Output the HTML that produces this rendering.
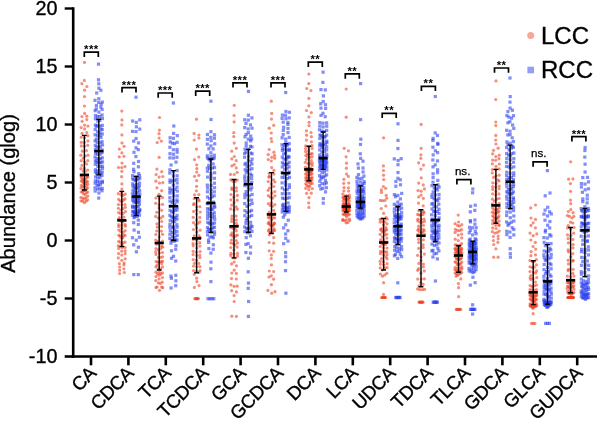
<!DOCTYPE html>
<html><head><meta charset="utf-8"><title>Abundance (glog) LCC vs RCC</title>
<style>html,body{margin:0;padding:0;background:#fff}body{width:597px;height:421px;overflow:hidden}svg{display:block}</style>
</head><body>
<svg width="597" height="421" viewBox="0 0 597 421" font-family="'Liberation Sans', Arial, sans-serif">
<rect width="597" height="421" fill="#fff"/>
<g fill="#F03C1E" fill-opacity="0.58"><circle cx="84.5" cy="202.7" r="1.6"/><circle cx="82.6" cy="201.2" r="1.6"/><circle cx="86.3" cy="201.1" r="1.6"/><circle cx="81.0" cy="200.8" r="1.6"/><circle cx="87.6" cy="199.8" r="1.6"/><circle cx="84.4" cy="198.9" r="1.6"/><circle cx="82.7" cy="198.1" r="1.6"/><circle cx="85.9" cy="197.6" r="1.6"/><circle cx="80.9" cy="197.5" r="1.6"/><circle cx="87.8" cy="196.1" r="1.6"/><circle cx="85.2" cy="194.5" r="1.6"/><circle cx="83.7" cy="194.0" r="1.6"/><circle cx="86.4" cy="192.6" r="1.6"/><circle cx="82.7" cy="192.1" r="1.6"/><circle cx="87.7" cy="192.1" r="1.6"/><circle cx="81.2" cy="192.0" r="1.6"/><circle cx="83.6" cy="190.6" r="1.6"/><circle cx="84.9" cy="190.5" r="1.6"/><circle cx="82.7" cy="190.0" r="1.6"/><circle cx="86.6" cy="188.8" r="1.6"/><circle cx="81.0" cy="188.0" r="1.6"/><circle cx="87.6" cy="187.8" r="1.6"/><circle cx="84.7" cy="186.9" r="1.6"/><circle cx="82.6" cy="186.6" r="1.6"/><circle cx="86.3" cy="185.4" r="1.6"/><circle cx="81.3" cy="185.4" r="1.6"/><circle cx="87.8" cy="184.2" r="1.6"/><circle cx="84.3" cy="183.8" r="1.6"/><circle cx="85.3" cy="183.2" r="1.6"/><circle cx="83.6" cy="182.9" r="1.6"/><circle cx="86.5" cy="181.8" r="1.6"/><circle cx="82.4" cy="181.6" r="1.6"/><circle cx="87.6" cy="181.5" r="1.6"/><circle cx="81.3" cy="181.1" r="1.6"/><circle cx="84.3" cy="179.6" r="1.6"/><circle cx="83.2" cy="179.5" r="1.6"/><circle cx="85.7" cy="179.5" r="1.6"/><circle cx="82.0" cy="178.8" r="1.6"/><circle cx="86.5" cy="177.4" r="1.6"/><circle cx="81.2" cy="177.0" r="1.6"/><circle cx="87.9" cy="177.0" r="1.6"/><circle cx="82.0" cy="175.8" r="1.6"/><circle cx="87.0" cy="175.1" r="1.6"/><circle cx="85.3" cy="171.6" r="1.6"/><circle cx="83.2" cy="171.1" r="1.6"/><circle cx="87.7" cy="170.0" r="1.6"/><circle cx="80.9" cy="168.7" r="1.6"/><circle cx="84.4" cy="168.4" r="1.6"/><circle cx="82.0" cy="165.4" r="1.6"/><circle cx="86.7" cy="164.0" r="1.6"/><circle cx="84.7" cy="162.1" r="1.6"/><circle cx="81.2" cy="160.7" r="1.6"/><circle cx="87.8" cy="160.6" r="1.6"/><circle cx="83.2" cy="158.0" r="1.6"/><circle cx="85.3" cy="156.1" r="1.6"/><circle cx="80.9" cy="155.2" r="1.6"/><circle cx="88.0" cy="155.2" r="1.6"/><circle cx="82.4" cy="151.2" r="1.6"/><circle cx="86.5" cy="150.6" r="1.6"/><circle cx="84.4" cy="146.2" r="1.6"/><circle cx="81.3" cy="145.9" r="1.6"/><circle cx="87.7" cy="145.3" r="1.6"/><circle cx="84.2" cy="142.4" r="1.6"/><circle cx="81.2" cy="142.3" r="1.6"/><circle cx="87.9" cy="140.9" r="1.6"/><circle cx="84.6" cy="137.6" r="1.6"/><circle cx="81.3" cy="137.2" r="1.6"/><circle cx="87.9" cy="135.7" r="1.6"/><circle cx="82.1" cy="133.3" r="1.6"/><circle cx="86.8" cy="132.5" r="1.6"/><circle cx="84.6" cy="128.9" r="1.6"/><circle cx="81.1" cy="127.6" r="1.6"/><circle cx="87.9" cy="126.1" r="1.6"/><circle cx="84.5" cy="125.1" r="1.6"/><circle cx="82.1" cy="121.3" r="1.6"/><circle cx="86.8" cy="119.6" r="1.6"/><circle cx="81.9" cy="116.5" r="1.6"/><circle cx="86.8" cy="116.2" r="1.6"/><circle cx="84.6" cy="113.4" r="1.6"/><circle cx="84.4" cy="106.0" r="1.6"/><circle cx="84.5" cy="96.6" r="1.6"/><circle cx="84.6" cy="90.2" r="1.6"/><circle cx="86.9" cy="86.5" r="1.6"/><circle cx="81.9" cy="83.7" r="1.6"/><circle cx="84.4" cy="80.4" r="1.6"/><circle cx="84.5" cy="62.4" r="1.6"/><circle cx="119.6" cy="273.5" r="1.6"/><circle cx="124.4" cy="272.5" r="1.6"/><circle cx="119.7" cy="270.2" r="1.6"/><circle cx="123.9" cy="268.8" r="1.6"/><circle cx="119.7" cy="267.0" r="1.6"/><circle cx="123.9" cy="264.9" r="1.6"/><circle cx="119.4" cy="263.7" r="1.6"/><circle cx="124.1" cy="263.0" r="1.6"/><circle cx="121.8" cy="260.3" r="1.6"/><circle cx="125.2" cy="258.8" r="1.6"/><circle cx="118.3" cy="257.9" r="1.6"/><circle cx="121.8" cy="255.1" r="1.6"/><circle cx="118.6" cy="253.6" r="1.6"/><circle cx="125.2" cy="253.6" r="1.6"/><circle cx="121.7" cy="251.2" r="1.6"/><circle cx="125.2" cy="250.8" r="1.6"/><circle cx="118.6" cy="248.4" r="1.6"/><circle cx="122.0" cy="247.6" r="1.6"/><circle cx="125.0" cy="247.4" r="1.6"/><circle cx="118.3" cy="245.8" r="1.6"/><circle cx="121.6" cy="244.4" r="1.6"/><circle cx="123.3" cy="242.9" r="1.6"/><circle cx="120.3" cy="242.1" r="1.6"/><circle cx="125.1" cy="242.1" r="1.6"/><circle cx="118.7" cy="241.4" r="1.6"/><circle cx="121.0" cy="237.9" r="1.6"/><circle cx="122.8" cy="237.8" r="1.6"/><circle cx="120.1" cy="235.9" r="1.6"/><circle cx="123.6" cy="235.7" r="1.6"/><circle cx="118.8" cy="235.3" r="1.6"/><circle cx="125.1" cy="235.3" r="1.6"/><circle cx="123.2" cy="232.4" r="1.6"/><circle cx="120.6" cy="231.3" r="1.6"/><circle cx="125.2" cy="230.6" r="1.6"/><circle cx="118.8" cy="230.0" r="1.6"/><circle cx="121.8" cy="228.3" r="1.6"/><circle cx="118.8" cy="226.7" r="1.6"/><circle cx="125.3" cy="226.2" r="1.6"/><circle cx="121.7" cy="225.2" r="1.6"/><circle cx="118.6" cy="224.7" r="1.6"/><circle cx="125.1" cy="224.6" r="1.6"/><circle cx="122.7" cy="221.9" r="1.6"/><circle cx="120.8" cy="221.1" r="1.6"/><circle cx="125.0" cy="220.4" r="1.6"/><circle cx="118.5" cy="219.0" r="1.6"/><circle cx="119.5" cy="217.5" r="1.6"/><circle cx="124.0" cy="217.1" r="1.6"/><circle cx="120.7" cy="213.7" r="1.6"/><circle cx="123.1" cy="213.3" r="1.6"/><circle cx="118.6" cy="212.6" r="1.6"/><circle cx="125.4" cy="211.6" r="1.6"/><circle cx="120.9" cy="210.0" r="1.6"/><circle cx="122.8" cy="208.7" r="1.6"/><circle cx="118.4" cy="208.3" r="1.6"/><circle cx="125.3" cy="207.3" r="1.6"/><circle cx="121.9" cy="204.9" r="1.6"/><circle cx="118.5" cy="204.6" r="1.6"/><circle cx="125.0" cy="204.5" r="1.6"/><circle cx="121.9" cy="201.7" r="1.6"/><circle cx="120.2" cy="201.0" r="1.6"/><circle cx="123.6" cy="199.9" r="1.6"/><circle cx="118.7" cy="199.3" r="1.6"/><circle cx="125.0" cy="198.9" r="1.6"/><circle cx="123.2" cy="195.3" r="1.6"/><circle cx="121.0" cy="194.9" r="1.6"/><circle cx="125.3" cy="194.1" r="1.6"/><circle cx="118.3" cy="193.7" r="1.6"/><circle cx="121.7" cy="192.2" r="1.6"/><circle cx="121.9" cy="189.1" r="1.6"/><circle cx="121.9" cy="183.9" r="1.6"/><circle cx="121.6" cy="176.7" r="1.6"/><circle cx="121.9" cy="171.3" r="1.6"/><circle cx="121.8" cy="167.6" r="1.6"/><circle cx="118.5" cy="167.5" r="1.6"/><circle cx="125.0" cy="166.5" r="1.6"/><circle cx="122.0" cy="163.0" r="1.6"/><circle cx="119.3" cy="156.8" r="1.6"/><circle cx="124.0" cy="156.3" r="1.6"/><circle cx="121.9" cy="152.9" r="1.6"/><circle cx="119.4" cy="149.1" r="1.6"/><circle cx="124.1" cy="146.3" r="1.6"/><circle cx="122.0" cy="142.9" r="1.6"/><circle cx="121.9" cy="134.9" r="1.6"/><circle cx="121.8" cy="124.9" r="1.6"/><circle cx="122.0" cy="119.9" r="1.6"/><circle cx="121.8" cy="111.1" r="1.6"/><circle cx="159.5" cy="290.3" r="1.6"/><circle cx="162.8" cy="287.7" r="1.6"/><circle cx="156.0" cy="287.6" r="1.6"/><circle cx="161.6" cy="287.1" r="1.6"/><circle cx="157.1" cy="287.0" r="1.6"/><circle cx="160.4" cy="283.4" r="1.6"/><circle cx="158.3" cy="282.8" r="1.6"/><circle cx="162.3" cy="282.1" r="1.6"/><circle cx="155.8" cy="280.6" r="1.6"/><circle cx="159.1" cy="278.9" r="1.6"/><circle cx="162.5" cy="277.6" r="1.6"/><circle cx="156.0" cy="276.5" r="1.6"/><circle cx="159.3" cy="275.2" r="1.6"/><circle cx="160.8" cy="273.9" r="1.6"/><circle cx="157.6" cy="273.9" r="1.6"/><circle cx="162.5" cy="272.9" r="1.6"/><circle cx="156.0" cy="272.2" r="1.6"/><circle cx="159.3" cy="272.1" r="1.6"/><circle cx="160.6" cy="268.8" r="1.6"/><circle cx="158.2" cy="268.8" r="1.6"/><circle cx="162.5" cy="266.9" r="1.6"/><circle cx="155.9" cy="266.8" r="1.6"/><circle cx="157.0" cy="265.2" r="1.6"/><circle cx="161.7" cy="263.7" r="1.6"/><circle cx="159.2" cy="262.1" r="1.6"/><circle cx="157.8" cy="261.9" r="1.6"/><circle cx="161.1" cy="261.6" r="1.6"/><circle cx="156.1" cy="261.5" r="1.6"/><circle cx="162.5" cy="261.3" r="1.6"/><circle cx="160.4" cy="257.4" r="1.6"/><circle cx="158.4" cy="257.4" r="1.6"/><circle cx="162.6" cy="256.8" r="1.6"/><circle cx="156.0" cy="254.4" r="1.6"/><circle cx="159.5" cy="252.9" r="1.6"/><circle cx="162.5" cy="252.6" r="1.6"/><circle cx="155.7" cy="251.7" r="1.6"/><circle cx="158.4" cy="249.8" r="1.6"/><circle cx="160.5" cy="248.8" r="1.6"/><circle cx="156.0" cy="248.5" r="1.6"/><circle cx="162.7" cy="247.2" r="1.6"/><circle cx="161.6" cy="246.2" r="1.6"/><circle cx="156.7" cy="244.3" r="1.6"/><circle cx="160.3" cy="242.8" r="1.6"/><circle cx="158.2" cy="241.2" r="1.6"/><circle cx="162.5" cy="241.2" r="1.6"/><circle cx="155.7" cy="240.0" r="1.6"/><circle cx="159.3" cy="237.0" r="1.6"/><circle cx="155.8" cy="234.5" r="1.6"/><circle cx="162.5" cy="234.3" r="1.6"/><circle cx="161.4" cy="231.1" r="1.6"/><circle cx="156.7" cy="231.0" r="1.6"/><circle cx="157.2" cy="227.1" r="1.6"/><circle cx="161.6" cy="226.5" r="1.6"/><circle cx="156.9" cy="223.8" r="1.6"/><circle cx="161.7" cy="221.5" r="1.6"/><circle cx="160.5" cy="218.2" r="1.6"/><circle cx="158.2" cy="218.0" r="1.6"/><circle cx="162.8" cy="216.4" r="1.6"/><circle cx="155.7" cy="216.4" r="1.6"/><circle cx="156.8" cy="212.3" r="1.6"/><circle cx="161.6" cy="210.3" r="1.6"/><circle cx="159.0" cy="208.0" r="1.6"/><circle cx="159.1" cy="204.8" r="1.6"/><circle cx="162.5" cy="204.4" r="1.6"/><circle cx="155.7" cy="203.3" r="1.6"/><circle cx="159.4" cy="198.5" r="1.6"/><circle cx="155.9" cy="198.0" r="1.6"/><circle cx="162.5" cy="197.6" r="1.6"/><circle cx="159.0" cy="194.3" r="1.6"/><circle cx="161.7" cy="190.7" r="1.6"/><circle cx="156.9" cy="187.8" r="1.6"/><circle cx="159.5" cy="183.0" r="1.6"/><circle cx="162.8" cy="182.6" r="1.6"/><circle cx="155.9" cy="181.2" r="1.6"/><circle cx="159.1" cy="177.1" r="1.6"/><circle cx="162.8" cy="176.5" r="1.6"/><circle cx="156.1" cy="174.5" r="1.6"/><circle cx="161.7" cy="171.7" r="1.6"/><circle cx="156.9" cy="169.1" r="1.6"/><circle cx="159.1" cy="157.3" r="1.6"/><circle cx="157.2" cy="142.6" r="1.6"/><circle cx="161.4" cy="141.1" r="1.6"/><circle cx="159.1" cy="138.1" r="1.6"/><circle cx="159.0" cy="133.7" r="1.6"/><circle cx="159.4" cy="130.1" r="1.6"/><circle cx="159.5" cy="117.5" r="1.6"/><circle cx="194.4" cy="287.4" r="1.6"/><circle cx="199.0" cy="285.6" r="1.6"/><circle cx="196.9" cy="281.6" r="1.6"/><circle cx="196.6" cy="278.2" r="1.6"/><circle cx="194.3" cy="274.3" r="1.6"/><circle cx="199.1" cy="272.3" r="1.6"/><circle cx="196.7" cy="271.3" r="1.6"/><circle cx="193.6" cy="270.5" r="1.6"/><circle cx="200.1" cy="270.5" r="1.6"/><circle cx="196.7" cy="266.8" r="1.6"/><circle cx="199.9" cy="266.7" r="1.6"/><circle cx="193.4" cy="266.1" r="1.6"/><circle cx="198.8" cy="263.4" r="1.6"/><circle cx="194.5" cy="263.3" r="1.6"/><circle cx="196.5" cy="260.3" r="1.6"/><circle cx="193.2" cy="259.6" r="1.6"/><circle cx="199.9" cy="257.6" r="1.6"/><circle cx="196.7" cy="255.6" r="1.6"/><circle cx="199.8" cy="255.0" r="1.6"/><circle cx="193.1" cy="254.6" r="1.6"/><circle cx="196.5" cy="252.2" r="1.6"/><circle cx="200.1" cy="251.5" r="1.6"/><circle cx="193.2" cy="251.3" r="1.6"/><circle cx="196.8" cy="247.9" r="1.6"/><circle cx="199.9" cy="246.1" r="1.6"/><circle cx="193.2" cy="245.8" r="1.6"/><circle cx="196.8" cy="243.9" r="1.6"/><circle cx="193.1" cy="243.6" r="1.6"/><circle cx="199.8" cy="242.7" r="1.6"/><circle cx="196.8" cy="240.2" r="1.6"/><circle cx="193.3" cy="239.5" r="1.6"/><circle cx="200.1" cy="237.6" r="1.6"/><circle cx="199.1" cy="235.9" r="1.6"/><circle cx="194.3" cy="235.8" r="1.6"/><circle cx="196.8" cy="232.1" r="1.6"/><circle cx="200.1" cy="230.2" r="1.6"/><circle cx="193.5" cy="229.5" r="1.6"/><circle cx="196.6" cy="227.8" r="1.6"/><circle cx="195.6" cy="224.8" r="1.6"/><circle cx="197.9" cy="223.3" r="1.6"/><circle cx="193.5" cy="222.7" r="1.6"/><circle cx="199.8" cy="221.9" r="1.6"/><circle cx="196.7" cy="219.9" r="1.6"/><circle cx="199.8" cy="217.4" r="1.6"/><circle cx="193.2" cy="217.3" r="1.6"/><circle cx="196.7" cy="214.0" r="1.6"/><circle cx="200.2" cy="212.0" r="1.6"/><circle cx="193.6" cy="211.4" r="1.6"/><circle cx="196.7" cy="210.1" r="1.6"/><circle cx="196.7" cy="206.8" r="1.6"/><circle cx="199.9" cy="206.7" r="1.6"/><circle cx="193.6" cy="204.7" r="1.6"/><circle cx="194.1" cy="203.6" r="1.6"/><circle cx="199.1" cy="200.9" r="1.6"/><circle cx="198.7" cy="199.5" r="1.6"/><circle cx="194.2" cy="198.5" r="1.6"/><circle cx="194.6" cy="194.9" r="1.6"/><circle cx="198.8" cy="194.6" r="1.6"/><circle cx="196.4" cy="190.8" r="1.6"/><circle cx="196.6" cy="186.3" r="1.6"/><circle cx="196.6" cy="180.6" r="1.6"/><circle cx="194.5" cy="176.3" r="1.6"/><circle cx="198.8" cy="175.3" r="1.6"/><circle cx="196.7" cy="172.1" r="1.6"/><circle cx="196.9" cy="168.6" r="1.6"/><circle cx="196.7" cy="164.8" r="1.6"/><circle cx="194.5" cy="159.6" r="1.6"/><circle cx="198.8" cy="157.0" r="1.6"/><circle cx="196.5" cy="149.1" r="1.6"/><circle cx="194.2" cy="140.0" r="1.6"/><circle cx="198.9" cy="138.0" r="1.6"/><circle cx="198.9" cy="135.0" r="1.6"/><circle cx="194.1" cy="133.4" r="1.6"/><circle cx="196.5" cy="119.2" r="1.6"/><circle cx="194.8" cy="298.7" r="1.6"/><circle cx="195.6" cy="298.7" r="1.6"/><circle cx="196.3" cy="298.7" r="1.6"/><circle cx="197.0" cy="298.7" r="1.6"/><circle cx="197.7" cy="298.7" r="1.6"/><circle cx="198.4" cy="298.7" r="1.6"/><circle cx="236.4" cy="316.4" r="1.6"/><circle cx="231.8" cy="316.2" r="1.6"/><circle cx="234.2" cy="301.5" r="1.6"/><circle cx="234.1" cy="295.5" r="1.6"/><circle cx="236.4" cy="291.9" r="1.6"/><circle cx="231.6" cy="290.7" r="1.6"/><circle cx="234.1" cy="286.3" r="1.6"/><circle cx="237.2" cy="286.2" r="1.6"/><circle cx="230.9" cy="284.9" r="1.6"/><circle cx="236.3" cy="279.0" r="1.6"/><circle cx="231.5" cy="278.6" r="1.6"/><circle cx="236.3" cy="273.4" r="1.6"/><circle cx="231.8" cy="273.0" r="1.6"/><circle cx="234.2" cy="270.2" r="1.6"/><circle cx="236.5" cy="265.8" r="1.6"/><circle cx="231.6" cy="263.9" r="1.6"/><circle cx="234.1" cy="262.0" r="1.6"/><circle cx="235.2" cy="258.0" r="1.6"/><circle cx="233.1" cy="257.8" r="1.6"/><circle cx="237.6" cy="256.1" r="1.6"/><circle cx="230.7" cy="255.6" r="1.6"/><circle cx="233.9" cy="254.1" r="1.6"/><circle cx="237.5" cy="253.4" r="1.6"/><circle cx="230.9" cy="253.4" r="1.6"/><circle cx="233.9" cy="250.0" r="1.6"/><circle cx="230.8" cy="247.5" r="1.6"/><circle cx="237.1" cy="247.1" r="1.6"/><circle cx="235.1" cy="244.8" r="1.6"/><circle cx="233.2" cy="243.6" r="1.6"/><circle cx="237.4" cy="243.0" r="1.6"/><circle cx="230.9" cy="242.9" r="1.6"/><circle cx="236.3" cy="240.6" r="1.6"/><circle cx="231.5" cy="240.0" r="1.6"/><circle cx="233.9" cy="237.3" r="1.6"/><circle cx="235.9" cy="235.9" r="1.6"/><circle cx="232.3" cy="235.4" r="1.6"/><circle cx="237.3" cy="235.1" r="1.6"/><circle cx="230.8" cy="235.0" r="1.6"/><circle cx="232.0" cy="232.9" r="1.6"/><circle cx="236.4" cy="230.8" r="1.6"/><circle cx="233.2" cy="228.5" r="1.6"/><circle cx="235.1" cy="228.5" r="1.6"/><circle cx="230.6" cy="227.4" r="1.6"/><circle cx="237.5" cy="225.7" r="1.6"/><circle cx="236.3" cy="223.4" r="1.6"/><circle cx="231.7" cy="221.5" r="1.6"/><circle cx="236.3" cy="220.1" r="1.6"/><circle cx="231.7" cy="218.9" r="1.6"/><circle cx="236.1" cy="216.1" r="1.6"/><circle cx="231.9" cy="216.0" r="1.6"/><circle cx="234.1" cy="209.9" r="1.6"/><circle cx="237.4" cy="209.1" r="1.6"/><circle cx="230.7" cy="208.9" r="1.6"/><circle cx="236.1" cy="206.9" r="1.6"/><circle cx="231.7" cy="205.1" r="1.6"/><circle cx="234.0" cy="202.6" r="1.6"/><circle cx="237.2" cy="200.2" r="1.6"/><circle cx="230.9" cy="199.8" r="1.6"/><circle cx="233.8" cy="197.2" r="1.6"/><circle cx="237.3" cy="195.4" r="1.6"/><circle cx="231.0" cy="194.5" r="1.6"/><circle cx="236.4" cy="191.0" r="1.6"/><circle cx="232.0" cy="189.6" r="1.6"/><circle cx="236.4" cy="187.9" r="1.6"/><circle cx="231.7" cy="187.9" r="1.6"/><circle cx="235.2" cy="181.4" r="1.6"/><circle cx="233.0" cy="181.3" r="1.6"/><circle cx="237.3" cy="180.0" r="1.6"/><circle cx="230.7" cy="179.8" r="1.6"/><circle cx="234.2" cy="174.5" r="1.6"/><circle cx="230.5" cy="174.4" r="1.6"/><circle cx="237.1" cy="172.3" r="1.6"/><circle cx="236.2" cy="167.9" r="1.6"/><circle cx="231.9" cy="165.9" r="1.6"/><circle cx="234.2" cy="164.6" r="1.6"/><circle cx="236.2" cy="160.7" r="1.6"/><circle cx="231.8" cy="158.9" r="1.6"/><circle cx="234.3" cy="156.5" r="1.6"/><circle cx="231.7" cy="151.2" r="1.6"/><circle cx="236.3" cy="148.3" r="1.6"/><circle cx="234.2" cy="143.1" r="1.6"/><circle cx="233.8" cy="136.6" r="1.6"/><circle cx="233.8" cy="132.7" r="1.6"/><circle cx="234.1" cy="121.9" r="1.6"/><circle cx="234.1" cy="115.5" r="1.6"/><circle cx="234.3" cy="105.3" r="1.6"/><circle cx="271.7" cy="293.2" r="1.6"/><circle cx="275.0" cy="291.7" r="1.6"/><circle cx="267.9" cy="290.4" r="1.6"/><circle cx="271.4" cy="284.7" r="1.6"/><circle cx="273.6" cy="279.2" r="1.6"/><circle cx="269.0" cy="277.0" r="1.6"/><circle cx="271.3" cy="275.8" r="1.6"/><circle cx="273.6" cy="271.5" r="1.6"/><circle cx="269.3" cy="271.0" r="1.6"/><circle cx="271.5" cy="264.9" r="1.6"/><circle cx="271.3" cy="258.5" r="1.6"/><circle cx="271.4" cy="254.9" r="1.6"/><circle cx="273.6" cy="251.3" r="1.6"/><circle cx="269.2" cy="250.8" r="1.6"/><circle cx="273.7" cy="243.2" r="1.6"/><circle cx="269.2" cy="242.5" r="1.6"/><circle cx="273.7" cy="237.6" r="1.6"/><circle cx="269.3" cy="234.8" r="1.6"/><circle cx="270.7" cy="232.4" r="1.6"/><circle cx="272.1" cy="232.3" r="1.6"/><circle cx="269.5" cy="232.1" r="1.6"/><circle cx="273.3" cy="230.7" r="1.6"/><circle cx="268.4" cy="230.7" r="1.6"/><circle cx="274.6" cy="230.4" r="1.6"/><circle cx="269.3" cy="229.3" r="1.6"/><circle cx="273.9" cy="228.7" r="1.6"/><circle cx="271.5" cy="226.2" r="1.6"/><circle cx="272.8" cy="225.3" r="1.6"/><circle cx="270.2" cy="225.0" r="1.6"/><circle cx="273.5" cy="224.8" r="1.6"/><circle cx="269.4" cy="223.8" r="1.6"/><circle cx="274.6" cy="223.4" r="1.6"/><circle cx="268.2" cy="223.4" r="1.6"/><circle cx="274.0" cy="223.1" r="1.6"/><circle cx="269.0" cy="222.1" r="1.6"/><circle cx="271.5" cy="219.9" r="1.6"/><circle cx="273.0" cy="218.1" r="1.6"/><circle cx="269.8" cy="218.0" r="1.6"/><circle cx="274.7" cy="217.8" r="1.6"/><circle cx="268.4" cy="217.4" r="1.6"/><circle cx="270.3" cy="215.7" r="1.6"/><circle cx="272.3" cy="215.0" r="1.6"/><circle cx="268.1" cy="214.4" r="1.6"/><circle cx="274.6" cy="213.6" r="1.6"/><circle cx="269.2" cy="212.2" r="1.6"/><circle cx="273.7" cy="210.3" r="1.6"/><circle cx="272.5" cy="206.3" r="1.6"/><circle cx="270.3" cy="205.5" r="1.6"/><circle cx="274.8" cy="204.6" r="1.6"/><circle cx="268.4" cy="203.7" r="1.6"/><circle cx="271.4" cy="203.1" r="1.6"/><circle cx="272.7" cy="198.1" r="1.6"/><circle cx="270.2" cy="197.1" r="1.6"/><circle cx="274.9" cy="195.8" r="1.6"/><circle cx="268.3" cy="195.7" r="1.6"/><circle cx="271.7" cy="193.2" r="1.6"/><circle cx="274.8" cy="191.6" r="1.6"/><circle cx="268.1" cy="190.3" r="1.6"/><circle cx="269.4" cy="188.0" r="1.6"/><circle cx="273.7" cy="186.5" r="1.6"/><circle cx="271.3" cy="184.0" r="1.6"/><circle cx="274.9" cy="182.0" r="1.6"/><circle cx="268.2" cy="181.6" r="1.6"/><circle cx="273.6" cy="179.8" r="1.6"/><circle cx="269.0" cy="177.2" r="1.6"/><circle cx="269.3" cy="176.4" r="1.6"/><circle cx="274.0" cy="174.1" r="1.6"/><circle cx="269.2" cy="173.3" r="1.6"/><circle cx="273.9" cy="170.4" r="1.6"/><circle cx="271.6" cy="167.6" r="1.6"/><circle cx="271.3" cy="161.0" r="1.6"/><circle cx="268.3" cy="159.5" r="1.6"/><circle cx="274.7" cy="158.2" r="1.6"/><circle cx="271.7" cy="157.3" r="1.6"/><circle cx="274.5" cy="155.4" r="1.6"/><circle cx="268.2" cy="154.6" r="1.6"/><circle cx="273.9" cy="152.2" r="1.6"/><circle cx="269.2" cy="149.5" r="1.6"/><circle cx="271.7" cy="141.5" r="1.6"/><circle cx="271.2" cy="138.5" r="1.6"/><circle cx="271.3" cy="133.0" r="1.6"/><circle cx="269.3" cy="128.2" r="1.6"/><circle cx="273.7" cy="125.3" r="1.6"/><circle cx="271.5" cy="119.1" r="1.6"/><circle cx="271.7" cy="113.4" r="1.6"/><circle cx="271.3" cy="101.2" r="1.6"/><circle cx="308.9" cy="207.4" r="1.6"/><circle cx="308.7" cy="202.9" r="1.6"/><circle cx="309.0" cy="197.7" r="1.6"/><circle cx="306.6" cy="193.3" r="1.6"/><circle cx="311.3" cy="193.2" r="1.6"/><circle cx="308.8" cy="189.7" r="1.6"/><circle cx="312.2" cy="188.6" r="1.6"/><circle cx="305.7" cy="188.3" r="1.6"/><circle cx="308.4" cy="186.4" r="1.6"/><circle cx="309.7" cy="186.2" r="1.6"/><circle cx="306.7" cy="185.4" r="1.6"/><circle cx="310.7" cy="183.7" r="1.6"/><circle cx="305.8" cy="183.7" r="1.6"/><circle cx="312.2" cy="183.4" r="1.6"/><circle cx="308.8" cy="182.6" r="1.6"/><circle cx="307.9" cy="181.3" r="1.6"/><circle cx="310.0" cy="181.2" r="1.6"/><circle cx="306.9" cy="180.8" r="1.6"/><circle cx="310.8" cy="180.6" r="1.6"/><circle cx="305.8" cy="180.1" r="1.6"/><circle cx="311.9" cy="179.9" r="1.6"/><circle cx="308.8" cy="178.9" r="1.6"/><circle cx="310.0" cy="178.6" r="1.6"/><circle cx="307.6" cy="178.1" r="1.6"/><circle cx="311.1" cy="178.0" r="1.6"/><circle cx="306.9" cy="177.9" r="1.6"/><circle cx="312.1" cy="177.6" r="1.6"/><circle cx="305.7" cy="177.5" r="1.6"/><circle cx="308.2" cy="175.2" r="1.6"/><circle cx="309.3" cy="174.9" r="1.6"/><circle cx="306.9" cy="174.9" r="1.6"/><circle cx="311.0" cy="174.7" r="1.6"/><circle cx="305.6" cy="173.9" r="1.6"/><circle cx="312.0" cy="173.6" r="1.6"/><circle cx="308.9" cy="172.0" r="1.6"/><circle cx="309.6" cy="171.8" r="1.6"/><circle cx="308.1" cy="171.7" r="1.6"/><circle cx="310.6" cy="171.7" r="1.6"/><circle cx="307.0" cy="171.7" r="1.6"/><circle cx="311.2" cy="171.2" r="1.6"/><circle cx="306.5" cy="170.2" r="1.6"/><circle cx="312.0" cy="170.1" r="1.6"/><circle cx="305.3" cy="169.6" r="1.6"/><circle cx="308.8" cy="168.5" r="1.6"/><circle cx="307.4" cy="168.2" r="1.6"/><circle cx="310.5" cy="168.0" r="1.6"/><circle cx="305.4" cy="167.3" r="1.6"/><circle cx="312.2" cy="165.5" r="1.6"/><circle cx="310.1" cy="163.7" r="1.6"/><circle cx="307.9" cy="163.7" r="1.6"/><circle cx="312.3" cy="163.2" r="1.6"/><circle cx="305.3" cy="162.3" r="1.6"/><circle cx="311.3" cy="160.6" r="1.6"/><circle cx="306.4" cy="159.6" r="1.6"/><circle cx="309.7" cy="157.4" r="1.6"/><circle cx="307.6" cy="157.0" r="1.6"/><circle cx="312.1" cy="156.8" r="1.6"/><circle cx="305.8" cy="155.5" r="1.6"/><circle cx="308.7" cy="154.3" r="1.6"/><circle cx="310.7" cy="153.9" r="1.6"/><circle cx="307.0" cy="153.8" r="1.6"/><circle cx="312.2" cy="153.7" r="1.6"/><circle cx="305.6" cy="151.4" r="1.6"/><circle cx="308.6" cy="150.7" r="1.6"/><circle cx="305.6" cy="148.6" r="1.6"/><circle cx="312.1" cy="148.4" r="1.6"/><circle cx="308.7" cy="146.9" r="1.6"/><circle cx="305.7" cy="145.8" r="1.6"/><circle cx="312.0" cy="145.5" r="1.6"/><circle cx="311.4" cy="141.8" r="1.6"/><circle cx="306.4" cy="140.1" r="1.6"/><circle cx="311.4" cy="136.7" r="1.6"/><circle cx="306.6" cy="135.2" r="1.6"/><circle cx="311.0" cy="132.5" r="1.6"/><circle cx="306.4" cy="130.8" r="1.6"/><circle cx="309.0" cy="125.6" r="1.6"/><circle cx="309.1" cy="122.3" r="1.6"/><circle cx="308.9" cy="116.9" r="1.6"/><circle cx="311.3" cy="112.7" r="1.6"/><circle cx="306.5" cy="110.5" r="1.6"/><circle cx="308.8" cy="105.8" r="1.6"/><circle cx="308.9" cy="98.4" r="1.6"/><circle cx="310.9" cy="90.6" r="1.6"/><circle cx="306.8" cy="88.5" r="1.6"/><circle cx="308.8" cy="83.6" r="1.6"/><circle cx="308.9" cy="74.0" r="1.6"/><circle cx="346.1" cy="222.8" r="1.6"/><circle cx="347.9" cy="222.5" r="1.6"/><circle cx="344.5" cy="220.6" r="1.6"/><circle cx="349.7" cy="220.5" r="1.6"/><circle cx="342.7" cy="220.2" r="1.6"/><circle cx="346.4" cy="219.8" r="1.6"/><circle cx="342.9" cy="219.7" r="1.6"/><circle cx="349.4" cy="219.1" r="1.6"/><circle cx="346.7" cy="216.7" r="1.6"/><circle cx="345.7" cy="215.2" r="1.6"/><circle cx="348.3" cy="214.9" r="1.6"/><circle cx="344.0" cy="214.6" r="1.6"/><circle cx="349.5" cy="214.3" r="1.6"/><circle cx="343.0" cy="214.1" r="1.6"/><circle cx="346.0" cy="213.5" r="1.6"/><circle cx="347.0" cy="213.2" r="1.6"/><circle cx="345.4" cy="213.0" r="1.6"/><circle cx="348.1" cy="211.2" r="1.6"/><circle cx="344.5" cy="210.9" r="1.6"/><circle cx="348.9" cy="210.7" r="1.6"/><circle cx="344.0" cy="210.7" r="1.6"/><circle cx="349.6" cy="210.6" r="1.6"/><circle cx="342.8" cy="210.6" r="1.6"/><circle cx="346.0" cy="210.2" r="1.6"/><circle cx="345.9" cy="210.2" r="1.6"/><circle cx="346.5" cy="210.1" r="1.6"/><circle cx="345.2" cy="210.0" r="1.6"/><circle cx="347.0" cy="209.8" r="1.6"/><circle cx="344.8" cy="209.7" r="1.6"/><circle cx="347.7" cy="209.5" r="1.6"/><circle cx="344.6" cy="209.4" r="1.6"/><circle cx="348.1" cy="208.8" r="1.6"/><circle cx="344.4" cy="208.6" r="1.6"/><circle cx="348.4" cy="208.5" r="1.6"/><circle cx="343.8" cy="208.2" r="1.6"/><circle cx="348.7" cy="208.2" r="1.6"/><circle cx="343.5" cy="208.1" r="1.6"/><circle cx="349.2" cy="208.0" r="1.6"/><circle cx="342.8" cy="207.9" r="1.6"/><circle cx="349.6" cy="207.3" r="1.6"/><circle cx="346.3" cy="206.7" r="1.6"/><circle cx="347.0" cy="206.6" r="1.6"/><circle cx="345.7" cy="206.1" r="1.6"/><circle cx="347.6" cy="205.7" r="1.6"/><circle cx="345.1" cy="205.4" r="1.6"/><circle cx="348.4" cy="205.1" r="1.6"/><circle cx="344.1" cy="205.1" r="1.6"/><circle cx="348.7" cy="204.7" r="1.6"/><circle cx="343.4" cy="204.5" r="1.6"/><circle cx="349.4" cy="204.0" r="1.6"/><circle cx="343.2" cy="203.9" r="1.6"/><circle cx="346.2" cy="203.6" r="1.6"/><circle cx="347.9" cy="202.7" r="1.6"/><circle cx="344.6" cy="202.7" r="1.6"/><circle cx="349.4" cy="201.1" r="1.6"/><circle cx="343.1" cy="200.7" r="1.6"/><circle cx="346.4" cy="200.0" r="1.6"/><circle cx="347.1" cy="199.5" r="1.6"/><circle cx="345.3" cy="199.2" r="1.6"/><circle cx="347.6" cy="199.2" r="1.6"/><circle cx="344.7" cy="199.1" r="1.6"/><circle cx="348.4" cy="198.6" r="1.6"/><circle cx="344.1" cy="198.6" r="1.6"/><circle cx="348.8" cy="198.0" r="1.6"/><circle cx="343.7" cy="197.4" r="1.6"/><circle cx="349.6" cy="197.4" r="1.6"/><circle cx="343.0" cy="197.3" r="1.6"/><circle cx="346.3" cy="195.7" r="1.6"/><circle cx="349.4" cy="195.0" r="1.6"/><circle cx="342.9" cy="194.2" r="1.6"/><circle cx="348.6" cy="191.1" r="1.6"/><circle cx="343.8" cy="191.0" r="1.6"/><circle cx="348.4" cy="187.8" r="1.6"/><circle cx="344.0" cy="187.7" r="1.6"/><circle cx="343.7" cy="183.3" r="1.6"/><circle cx="348.8" cy="183.0" r="1.6"/><circle cx="343.9" cy="179.3" r="1.6"/><circle cx="348.4" cy="176.4" r="1.6"/><circle cx="346.5" cy="174.1" r="1.6"/><circle cx="346.4" cy="168.2" r="1.6"/><circle cx="346.5" cy="163.2" r="1.6"/><circle cx="346.1" cy="156.8" r="1.6"/><circle cx="348.4" cy="150.8" r="1.6"/><circle cx="344.2" cy="148.3" r="1.6"/><circle cx="346.2" cy="117.2" r="1.6"/><circle cx="346.2" cy="89.0" r="1.6"/><circle cx="383.5" cy="294.4" r="1.6"/><circle cx="383.6" cy="282.7" r="1.6"/><circle cx="382.4" cy="276.2" r="1.6"/><circle cx="384.7" cy="275.0" r="1.6"/><circle cx="380.4" cy="274.0" r="1.6"/><circle cx="386.8" cy="273.3" r="1.6"/><circle cx="382.3" cy="270.0" r="1.6"/><circle cx="384.7" cy="267.9" r="1.6"/><circle cx="380.2" cy="267.9" r="1.6"/><circle cx="387.1" cy="267.5" r="1.6"/><circle cx="383.8" cy="265.0" r="1.6"/><circle cx="380.4" cy="264.1" r="1.6"/><circle cx="387.1" cy="263.7" r="1.6"/><circle cx="383.4" cy="261.8" r="1.6"/><circle cx="380.2" cy="261.2" r="1.6"/><circle cx="387.1" cy="258.9" r="1.6"/><circle cx="381.6" cy="258.5" r="1.6"/><circle cx="386.1" cy="257.0" r="1.6"/><circle cx="383.7" cy="255.0" r="1.6"/><circle cx="387.0" cy="254.7" r="1.6"/><circle cx="380.4" cy="253.7" r="1.6"/><circle cx="385.0" cy="251.9" r="1.6"/><circle cx="382.6" cy="251.8" r="1.6"/><circle cx="386.8" cy="251.8" r="1.6"/><circle cx="380.6" cy="251.3" r="1.6"/><circle cx="383.4" cy="248.1" r="1.6"/><circle cx="387.0" cy="248.0" r="1.6"/><circle cx="380.2" cy="246.5" r="1.6"/><circle cx="383.6" cy="245.0" r="1.6"/><circle cx="385.4" cy="244.4" r="1.6"/><circle cx="381.9" cy="243.7" r="1.6"/><circle cx="387.0" cy="242.1" r="1.6"/><circle cx="380.6" cy="242.0" r="1.6"/><circle cx="383.8" cy="240.4" r="1.6"/><circle cx="380.6" cy="239.8" r="1.6"/><circle cx="386.8" cy="238.1" r="1.6"/><circle cx="382.3" cy="237.0" r="1.6"/><circle cx="384.8" cy="235.0" r="1.6"/><circle cx="380.1" cy="234.4" r="1.6"/><circle cx="386.7" cy="234.3" r="1.6"/><circle cx="382.8" cy="232.2" r="1.6"/><circle cx="384.4" cy="231.9" r="1.6"/><circle cx="381.7" cy="230.7" r="1.6"/><circle cx="385.4" cy="230.2" r="1.6"/><circle cx="380.5" cy="229.7" r="1.6"/><circle cx="386.7" cy="229.7" r="1.6"/><circle cx="381.5" cy="228.5" r="1.6"/><circle cx="385.9" cy="227.5" r="1.6"/><circle cx="383.4" cy="225.0" r="1.6"/><circle cx="387.0" cy="223.8" r="1.6"/><circle cx="380.1" cy="222.1" r="1.6"/><circle cx="382.8" cy="221.9" r="1.6"/><circle cx="384.8" cy="221.9" r="1.6"/><circle cx="380.2" cy="219.4" r="1.6"/><circle cx="387.1" cy="219.0" r="1.6"/><circle cx="381.3" cy="218.9" r="1.6"/><circle cx="386.1" cy="217.7" r="1.6"/><circle cx="383.6" cy="213.3" r="1.6"/><circle cx="381.2" cy="208.5" r="1.6"/><circle cx="385.8" cy="206.0" r="1.6"/><circle cx="382.5" cy="200.7" r="1.6"/><circle cx="384.9" cy="200.5" r="1.6"/><circle cx="380.3" cy="200.4" r="1.6"/><circle cx="386.8" cy="198.2" r="1.6"/><circle cx="386.2" cy="195.3" r="1.6"/><circle cx="381.5" cy="192.4" r="1.6"/><circle cx="381.4" cy="189.9" r="1.6"/><circle cx="385.7" cy="188.3" r="1.6"/><circle cx="383.4" cy="186.5" r="1.6"/><circle cx="383.7" cy="179.6" r="1.6"/><circle cx="383.5" cy="175.2" r="1.6"/><circle cx="383.5" cy="170.5" r="1.6"/><circle cx="383.4" cy="165.9" r="1.6"/><circle cx="383.6" cy="137.8" r="1.6"/><circle cx="381.6" cy="297.5" r="1.6"/><circle cx="382.3" cy="297.5" r="1.6"/><circle cx="383.0" cy="297.5" r="1.6"/><circle cx="383.6" cy="297.5" r="1.6"/><circle cx="384.3" cy="297.5" r="1.6"/><circle cx="385.0" cy="297.5" r="1.6"/><circle cx="385.6" cy="297.5" r="1.6"/><circle cx="422.3" cy="289.7" r="1.6"/><circle cx="419.8" cy="289.7" r="1.6"/><circle cx="424.5" cy="289.4" r="1.6"/><circle cx="417.6" cy="288.9" r="1.6"/><circle cx="419.0" cy="285.9" r="1.6"/><circle cx="423.1" cy="284.3" r="1.6"/><circle cx="420.8" cy="282.5" r="1.6"/><circle cx="421.3" cy="279.1" r="1.6"/><circle cx="417.7" cy="279.1" r="1.6"/><circle cx="424.4" cy="278.8" r="1.6"/><circle cx="420.9" cy="273.2" r="1.6"/><circle cx="424.3" cy="270.9" r="1.6"/><circle cx="417.7" cy="270.3" r="1.6"/><circle cx="418.6" cy="268.7" r="1.6"/><circle cx="423.4" cy="266.8" r="1.6"/><circle cx="423.4" cy="264.0" r="1.6"/><circle cx="418.9" cy="263.4" r="1.6"/><circle cx="421.0" cy="260.6" r="1.6"/><circle cx="421.1" cy="256.8" r="1.6"/><circle cx="417.6" cy="255.3" r="1.6"/><circle cx="424.4" cy="254.1" r="1.6"/><circle cx="420.8" cy="251.9" r="1.6"/><circle cx="418.7" cy="248.4" r="1.6"/><circle cx="423.2" cy="247.6" r="1.6"/><circle cx="423.2" cy="244.8" r="1.6"/><circle cx="418.7" cy="242.6" r="1.6"/><circle cx="423.4" cy="239.8" r="1.6"/><circle cx="418.6" cy="239.3" r="1.6"/><circle cx="421.0" cy="236.0" r="1.6"/><circle cx="417.9" cy="234.7" r="1.6"/><circle cx="424.5" cy="234.4" r="1.6"/><circle cx="421.3" cy="232.8" r="1.6"/><circle cx="422.7" cy="232.0" r="1.6"/><circle cx="419.3" cy="231.6" r="1.6"/><circle cx="424.2" cy="230.7" r="1.6"/><circle cx="417.9" cy="230.2" r="1.6"/><circle cx="423.4" cy="229.4" r="1.6"/><circle cx="418.6" cy="228.8" r="1.6"/><circle cx="418.6" cy="226.2" r="1.6"/><circle cx="423.5" cy="225.3" r="1.6"/><circle cx="422.1" cy="222.3" r="1.6"/><circle cx="420.0" cy="222.2" r="1.6"/><circle cx="424.4" cy="221.3" r="1.6"/><circle cx="417.8" cy="220.9" r="1.6"/><circle cx="421.3" cy="219.3" r="1.6"/><circle cx="417.9" cy="219.2" r="1.6"/><circle cx="424.1" cy="219.0" r="1.6"/><circle cx="420.8" cy="215.2" r="1.6"/><circle cx="419.2" cy="215.0" r="1.6"/><circle cx="422.9" cy="214.6" r="1.6"/><circle cx="417.6" cy="214.4" r="1.6"/><circle cx="424.1" cy="212.5" r="1.6"/><circle cx="423.3" cy="211.7" r="1.6"/><circle cx="418.9" cy="210.7" r="1.6"/><circle cx="423.2" cy="205.8" r="1.6"/><circle cx="418.5" cy="203.1" r="1.6"/><circle cx="423.3" cy="198.3" r="1.6"/><circle cx="418.7" cy="196.9" r="1.6"/><circle cx="421.1" cy="195.1" r="1.6"/><circle cx="421.1" cy="191.2" r="1.6"/><circle cx="418.0" cy="190.6" r="1.6"/><circle cx="424.4" cy="188.9" r="1.6"/><circle cx="423.3" cy="184.9" r="1.6"/><circle cx="418.7" cy="183.1" r="1.6"/><circle cx="421.3" cy="177.8" r="1.6"/><circle cx="420.9" cy="169.1" r="1.6"/><circle cx="423.5" cy="165.1" r="1.6"/><circle cx="418.6" cy="162.8" r="1.6"/><circle cx="420.8" cy="158.3" r="1.6"/><circle cx="420.9" cy="154.8" r="1.6"/><circle cx="421.1" cy="148.3" r="1.6"/><circle cx="421.1" cy="124.4" r="1.6"/><circle cx="419.0" cy="302.2" r="1.6"/><circle cx="419.7" cy="302.2" r="1.6"/><circle cx="420.4" cy="302.2" r="1.6"/><circle cx="421.0" cy="302.2" r="1.6"/><circle cx="421.7" cy="302.2" r="1.6"/><circle cx="422.4" cy="302.2" r="1.6"/><circle cx="423.0" cy="302.2" r="1.6"/><circle cx="458.7" cy="296.7" r="1.6"/><circle cx="458.6" cy="287.7" r="1.6"/><circle cx="458.4" cy="283.6" r="1.6"/><circle cx="460.8" cy="278.9" r="1.6"/><circle cx="456.1" cy="276.2" r="1.6"/><circle cx="457.6" cy="275.2" r="1.6"/><circle cx="459.0" cy="274.1" r="1.6"/><circle cx="456.3" cy="273.6" r="1.6"/><circle cx="460.6" cy="273.3" r="1.6"/><circle cx="455.1" cy="273.0" r="1.6"/><circle cx="461.6" cy="272.3" r="1.6"/><circle cx="458.5" cy="271.7" r="1.6"/><circle cx="457.2" cy="271.4" r="1.6"/><circle cx="459.5" cy="271.3" r="1.6"/><circle cx="456.0" cy="270.5" r="1.6"/><circle cx="460.4" cy="270.4" r="1.6"/><circle cx="454.9" cy="269.5" r="1.6"/><circle cx="462.0" cy="268.8" r="1.6"/><circle cx="457.4" cy="268.4" r="1.6"/><circle cx="459.8" cy="267.8" r="1.6"/><circle cx="455.2" cy="267.3" r="1.6"/><circle cx="461.8" cy="266.9" r="1.6"/><circle cx="458.4" cy="264.5" r="1.6"/><circle cx="459.6" cy="264.4" r="1.6"/><circle cx="457.3" cy="264.4" r="1.6"/><circle cx="460.7" cy="263.5" r="1.6"/><circle cx="456.2" cy="262.4" r="1.6"/><circle cx="461.8" cy="262.0" r="1.6"/><circle cx="455.0" cy="261.8" r="1.6"/><circle cx="458.4" cy="259.6" r="1.6"/><circle cx="459.6" cy="259.2" r="1.6"/><circle cx="457.1" cy="259.1" r="1.6"/><circle cx="460.5" cy="258.9" r="1.6"/><circle cx="456.4" cy="258.4" r="1.6"/><circle cx="461.6" cy="257.9" r="1.6"/><circle cx="455.1" cy="256.6" r="1.6"/><circle cx="458.5" cy="255.9" r="1.6"/><circle cx="457.5" cy="255.1" r="1.6"/><circle cx="459.7" cy="254.6" r="1.6"/><circle cx="456.5" cy="253.9" r="1.6"/><circle cx="460.6" cy="253.4" r="1.6"/><circle cx="455.1" cy="253.1" r="1.6"/><circle cx="461.9" cy="253.1" r="1.6"/><circle cx="458.4" cy="252.4" r="1.6"/><circle cx="459.2" cy="252.2" r="1.6"/><circle cx="457.7" cy="252.1" r="1.6"/><circle cx="460.2" cy="251.5" r="1.6"/><circle cx="457.0" cy="251.4" r="1.6"/><circle cx="460.9" cy="251.1" r="1.6"/><circle cx="456.1" cy="251.1" r="1.6"/><circle cx="461.5" cy="249.7" r="1.6"/><circle cx="455.2" cy="249.7" r="1.6"/><circle cx="457.8" cy="249.2" r="1.6"/><circle cx="459.1" cy="248.7" r="1.6"/><circle cx="456.5" cy="248.5" r="1.6"/><circle cx="460.4" cy="248.4" r="1.6"/><circle cx="455.0" cy="248.3" r="1.6"/><circle cx="461.6" cy="248.3" r="1.6"/><circle cx="457.8" cy="246.0" r="1.6"/><circle cx="458.9" cy="245.5" r="1.6"/><circle cx="456.5" cy="245.1" r="1.6"/><circle cx="460.6" cy="245.1" r="1.6"/><circle cx="455.2" cy="244.9" r="1.6"/><circle cx="461.6" cy="243.5" r="1.6"/><circle cx="458.3" cy="240.5" r="1.6"/><circle cx="455.2" cy="239.2" r="1.6"/><circle cx="461.7" cy="237.9" r="1.6"/><circle cx="458.3" cy="235.1" r="1.6"/><circle cx="461.6" cy="234.1" r="1.6"/><circle cx="455.0" cy="232.4" r="1.6"/><circle cx="459.6" cy="230.6" r="1.6"/><circle cx="457.4" cy="230.5" r="1.6"/><circle cx="461.6" cy="229.7" r="1.6"/><circle cx="455.4" cy="229.3" r="1.6"/><circle cx="459.5" cy="226.0" r="1.6"/><circle cx="457.6" cy="225.4" r="1.6"/><circle cx="461.8" cy="224.7" r="1.6"/><circle cx="455.1" cy="223.7" r="1.6"/><circle cx="458.6" cy="222.0" r="1.6"/><circle cx="458.2" cy="215.1" r="1.6"/><circle cx="456.3" cy="309.4" r="1.6"/><circle cx="457.1" cy="309.4" r="1.6"/><circle cx="458.0" cy="309.4" r="1.6"/><circle cx="458.9" cy="309.4" r="1.6"/><circle cx="459.8" cy="309.4" r="1.6"/><circle cx="460.7" cy="309.4" r="1.6"/><circle cx="498.1" cy="257.2" r="1.6"/><circle cx="493.7" cy="257.2" r="1.6"/><circle cx="495.9" cy="248.8" r="1.6"/><circle cx="493.8" cy="244.5" r="1.6"/><circle cx="497.9" cy="242.3" r="1.6"/><circle cx="493.4" cy="240.6" r="1.6"/><circle cx="498.2" cy="238.8" r="1.6"/><circle cx="493.4" cy="236.5" r="1.6"/><circle cx="498.1" cy="236.0" r="1.6"/><circle cx="494.9" cy="233.1" r="1.6"/><circle cx="497.2" cy="232.5" r="1.6"/><circle cx="492.3" cy="231.7" r="1.6"/><circle cx="499.2" cy="231.1" r="1.6"/><circle cx="496.1" cy="228.5" r="1.6"/><circle cx="492.7" cy="227.9" r="1.6"/><circle cx="499.0" cy="225.6" r="1.6"/><circle cx="495.7" cy="225.3" r="1.6"/><circle cx="499.0" cy="224.6" r="1.6"/><circle cx="492.6" cy="223.7" r="1.6"/><circle cx="496.8" cy="222.0" r="1.6"/><circle cx="494.5" cy="221.4" r="1.6"/><circle cx="499.2" cy="221.0" r="1.6"/><circle cx="492.7" cy="220.4" r="1.6"/><circle cx="495.9" cy="218.6" r="1.6"/><circle cx="497.2" cy="218.6" r="1.6"/><circle cx="494.7" cy="218.5" r="1.6"/><circle cx="498.1" cy="217.4" r="1.6"/><circle cx="493.8" cy="216.7" r="1.6"/><circle cx="498.9" cy="215.9" r="1.6"/><circle cx="492.7" cy="215.9" r="1.6"/><circle cx="495.3" cy="213.7" r="1.6"/><circle cx="496.4" cy="213.0" r="1.6"/><circle cx="493.9" cy="212.8" r="1.6"/><circle cx="498.1" cy="212.3" r="1.6"/><circle cx="492.3" cy="212.2" r="1.6"/><circle cx="498.9" cy="211.3" r="1.6"/><circle cx="496.1" cy="209.9" r="1.6"/><circle cx="494.0" cy="209.7" r="1.6"/><circle cx="497.3" cy="209.3" r="1.6"/><circle cx="492.5" cy="208.0" r="1.6"/><circle cx="499.3" cy="207.9" r="1.6"/><circle cx="494.8" cy="205.9" r="1.6"/><circle cx="496.7" cy="205.3" r="1.6"/><circle cx="492.4" cy="203.8" r="1.6"/><circle cx="499.2" cy="203.3" r="1.6"/><circle cx="494.5" cy="201.0" r="1.6"/><circle cx="496.7" cy="199.2" r="1.6"/><circle cx="492.5" cy="199.2" r="1.6"/><circle cx="499.1" cy="198.4" r="1.6"/><circle cx="495.7" cy="195.0" r="1.6"/><circle cx="498.9" cy="193.9" r="1.6"/><circle cx="492.6" cy="193.8" r="1.6"/><circle cx="495.9" cy="191.6" r="1.6"/><circle cx="492.8" cy="189.4" r="1.6"/><circle cx="499.0" cy="188.8" r="1.6"/><circle cx="495.8" cy="187.1" r="1.6"/><circle cx="492.7" cy="186.7" r="1.6"/><circle cx="499.2" cy="186.2" r="1.6"/><circle cx="496.1" cy="183.4" r="1.6"/><circle cx="492.8" cy="182.8" r="1.6"/><circle cx="499.0" cy="181.1" r="1.6"/><circle cx="497.9" cy="179.8" r="1.6"/><circle cx="493.6" cy="177.4" r="1.6"/><circle cx="495.9" cy="175.8" r="1.6"/><circle cx="499.1" cy="175.2" r="1.6"/><circle cx="492.3" cy="172.9" r="1.6"/><circle cx="495.7" cy="169.6" r="1.6"/><circle cx="492.4" cy="169.5" r="1.6"/><circle cx="499.2" cy="168.9" r="1.6"/><circle cx="496.0" cy="166.3" r="1.6"/><circle cx="499.3" cy="164.1" r="1.6"/><circle cx="492.4" cy="163.8" r="1.6"/><circle cx="495.7" cy="160.3" r="1.6"/><circle cx="492.6" cy="160.1" r="1.6"/><circle cx="498.9" cy="158.7" r="1.6"/><circle cx="495.8" cy="156.6" r="1.6"/><circle cx="499.2" cy="155.2" r="1.6"/><circle cx="492.6" cy="153.8" r="1.6"/><circle cx="493.5" cy="150.3" r="1.6"/><circle cx="498.1" cy="148.2" r="1.6"/><circle cx="496.0" cy="144.0" r="1.6"/><circle cx="495.7" cy="140.1" r="1.6"/><circle cx="495.8" cy="135.4" r="1.6"/><circle cx="495.8" cy="125.6" r="1.6"/><circle cx="495.8" cy="122.0" r="1.6"/><circle cx="495.7" cy="99.5" r="1.6"/><circle cx="496.0" cy="80.9" r="1.6"/><circle cx="533.1" cy="313.7" r="1.6"/><circle cx="532.9" cy="308.4" r="1.6"/><circle cx="533.4" cy="307.2" r="1.6"/><circle cx="532.4" cy="307.1" r="1.6"/><circle cx="534.2" cy="306.6" r="1.6"/><circle cx="531.6" cy="306.6" r="1.6"/><circle cx="535.3" cy="306.4" r="1.6"/><circle cx="530.5" cy="306.1" r="1.6"/><circle cx="535.9" cy="306.0" r="1.6"/><circle cx="530.0" cy="305.8" r="1.6"/><circle cx="536.8" cy="305.6" r="1.6"/><circle cx="533.2" cy="305.0" r="1.6"/><circle cx="534.2" cy="304.8" r="1.6"/><circle cx="532.3" cy="304.6" r="1.6"/><circle cx="535.4" cy="304.3" r="1.6"/><circle cx="531.3" cy="304.2" r="1.6"/><circle cx="536.3" cy="303.8" r="1.6"/><circle cx="530.1" cy="303.8" r="1.6"/><circle cx="533.4" cy="301.7" r="1.6"/><circle cx="534.3" cy="301.5" r="1.6"/><circle cx="532.3" cy="300.9" r="1.6"/><circle cx="534.9" cy="300.9" r="1.6"/><circle cx="531.6" cy="300.3" r="1.6"/><circle cx="535.5" cy="299.6" r="1.6"/><circle cx="530.9" cy="299.5" r="1.6"/><circle cx="536.5" cy="299.3" r="1.6"/><circle cx="530.1" cy="298.9" r="1.6"/><circle cx="533.1" cy="298.1" r="1.6"/><circle cx="533.9" cy="298.1" r="1.6"/><circle cx="532.6" cy="297.1" r="1.6"/><circle cx="534.7" cy="296.6" r="1.6"/><circle cx="531.4" cy="296.0" r="1.6"/><circle cx="535.7" cy="296.0" r="1.6"/><circle cx="530.7" cy="296.0" r="1.6"/><circle cx="536.7" cy="295.5" r="1.6"/><circle cx="530.1" cy="295.2" r="1.6"/><circle cx="534.5" cy="294.8" r="1.6"/><circle cx="532.1" cy="294.3" r="1.6"/><circle cx="536.7" cy="294.1" r="1.6"/><circle cx="530.0" cy="293.2" r="1.6"/><circle cx="534.3" cy="290.1" r="1.6"/><circle cx="532.1" cy="289.9" r="1.6"/><circle cx="536.5" cy="289.6" r="1.6"/><circle cx="530.0" cy="289.5" r="1.6"/><circle cx="532.1" cy="286.5" r="1.6"/><circle cx="534.4" cy="285.8" r="1.6"/><circle cx="530.1" cy="285.5" r="1.6"/><circle cx="536.6" cy="285.0" r="1.6"/><circle cx="535.4" cy="282.1" r="1.6"/><circle cx="530.8" cy="279.4" r="1.6"/><circle cx="533.2" cy="278.8" r="1.6"/><circle cx="530.1" cy="277.8" r="1.6"/><circle cx="536.8" cy="277.5" r="1.6"/><circle cx="530.9" cy="275.5" r="1.6"/><circle cx="535.7" cy="273.1" r="1.6"/><circle cx="533.5" cy="272.5" r="1.6"/><circle cx="530.0" cy="271.6" r="1.6"/><circle cx="536.6" cy="270.9" r="1.6"/><circle cx="532.2" cy="267.6" r="1.6"/><circle cx="534.2" cy="267.2" r="1.6"/><circle cx="530.0" cy="266.8" r="1.6"/><circle cx="536.5" cy="264.8" r="1.6"/><circle cx="532.3" cy="261.6" r="1.6"/><circle cx="534.2" cy="261.5" r="1.6"/><circle cx="529.9" cy="260.6" r="1.6"/><circle cx="536.4" cy="259.5" r="1.6"/><circle cx="530.9" cy="255.7" r="1.6"/><circle cx="535.5" cy="254.8" r="1.6"/><circle cx="531.1" cy="251.6" r="1.6"/><circle cx="535.7" cy="249.1" r="1.6"/><circle cx="533.1" cy="246.5" r="1.6"/><circle cx="535.3" cy="242.4" r="1.6"/><circle cx="530.9" cy="240.0" r="1.6"/><circle cx="533.2" cy="235.7" r="1.6"/><circle cx="536.8" cy="233.9" r="1.6"/><circle cx="530.0" cy="233.1" r="1.6"/><circle cx="535.4" cy="227.8" r="1.6"/><circle cx="531.0" cy="225.4" r="1.6"/><circle cx="533.2" cy="222.8" r="1.6"/><circle cx="535.5" cy="219.4" r="1.6"/><circle cx="531.0" cy="218.0" r="1.6"/><circle cx="530.7" cy="207.9" r="1.6"/><circle cx="535.5" cy="205.0" r="1.6"/><circle cx="531.5" cy="323.4" r="1.6"/><circle cx="533.2" cy="323.4" r="1.6"/><circle cx="534.9" cy="323.4" r="1.6"/><circle cx="571.3" cy="294.4" r="1.6"/><circle cx="570.1" cy="293.8" r="1.6"/><circle cx="572.0" cy="293.2" r="1.6"/><circle cx="569.3" cy="293.2" r="1.6"/><circle cx="572.9" cy="293.2" r="1.6"/><circle cx="568.4" cy="293.2" r="1.6"/><circle cx="573.9" cy="292.6" r="1.6"/><circle cx="567.6" cy="291.6" r="1.6"/><circle cx="571.5" cy="290.8" r="1.6"/><circle cx="569.7" cy="290.2" r="1.6"/><circle cx="574.0" cy="289.2" r="1.6"/><circle cx="567.2" cy="288.7" r="1.6"/><circle cx="570.6" cy="287.8" r="1.6"/><circle cx="569.6" cy="287.3" r="1.6"/><circle cx="571.6" cy="287.2" r="1.6"/><circle cx="568.5" cy="286.8" r="1.6"/><circle cx="572.9" cy="286.7" r="1.6"/><circle cx="567.5" cy="286.2" r="1.6"/><circle cx="573.8" cy="285.9" r="1.6"/><circle cx="570.7" cy="284.4" r="1.6"/><circle cx="569.7" cy="283.2" r="1.6"/><circle cx="571.7" cy="283.2" r="1.6"/><circle cx="568.6" cy="282.7" r="1.6"/><circle cx="573.1" cy="282.6" r="1.6"/><circle cx="567.3" cy="282.4" r="1.6"/><circle cx="573.9" cy="282.0" r="1.6"/><circle cx="568.4" cy="280.6" r="1.6"/><circle cx="573.0" cy="280.4" r="1.6"/><circle cx="570.7" cy="276.8" r="1.6"/><circle cx="567.4" cy="276.2" r="1.6"/><circle cx="574.0" cy="276.1" r="1.6"/><circle cx="572.9" cy="273.4" r="1.6"/><circle cx="568.1" cy="270.6" r="1.6"/><circle cx="568.5" cy="269.3" r="1.6"/><circle cx="573.1" cy="269.3" r="1.6"/><circle cx="568.5" cy="263.9" r="1.6"/><circle cx="572.8" cy="261.1" r="1.6"/><circle cx="573.2" cy="260.3" r="1.6"/><circle cx="568.2" cy="260.2" r="1.6"/><circle cx="570.8" cy="256.8" r="1.6"/><circle cx="572.8" cy="253.7" r="1.6"/><circle cx="568.5" cy="251.8" r="1.6"/><circle cx="568.1" cy="249.9" r="1.6"/><circle cx="573.0" cy="247.8" r="1.6"/><circle cx="573.1" cy="244.5" r="1.6"/><circle cx="568.4" cy="242.8" r="1.6"/><circle cx="572.9" cy="239.4" r="1.6"/><circle cx="568.1" cy="238.6" r="1.6"/><circle cx="570.8" cy="235.5" r="1.6"/><circle cx="567.5" cy="234.9" r="1.6"/><circle cx="573.7" cy="233.2" r="1.6"/><circle cx="570.5" cy="229.1" r="1.6"/><circle cx="567.4" cy="227.9" r="1.6"/><circle cx="574.1" cy="227.5" r="1.6"/><circle cx="568.2" cy="225.6" r="1.6"/><circle cx="572.8" cy="223.0" r="1.6"/><circle cx="570.5" cy="222.2" r="1.6"/><circle cx="572.0" cy="218.0" r="1.6"/><circle cx="569.5" cy="216.4" r="1.6"/><circle cx="573.8" cy="216.3" r="1.6"/><circle cx="567.4" cy="215.5" r="1.6"/><circle cx="573.1" cy="212.7" r="1.6"/><circle cx="568.3" cy="211.5" r="1.6"/><circle cx="570.8" cy="209.6" r="1.6"/><circle cx="570.7" cy="203.7" r="1.6"/><circle cx="570.5" cy="200.1" r="1.6"/><circle cx="570.6" cy="191.3" r="1.6"/><circle cx="570.4" cy="183.6" r="1.6"/><circle cx="568.6" cy="179.2" r="1.6"/><circle cx="573.0" cy="178.9" r="1.6"/><circle cx="570.7" cy="161.8" r="1.6"/><circle cx="567.8" cy="297.5" r="1.6"/><circle cx="568.1" cy="297.5" r="1.6"/><circle cx="568.4" cy="297.5" r="1.6"/><circle cx="568.7" cy="297.5" r="1.6"/><circle cx="569.0" cy="297.5" r="1.6"/><circle cx="569.3" cy="297.5" r="1.6"/><circle cx="569.6" cy="297.5" r="1.6"/><circle cx="569.9" cy="297.5" r="1.6"/><circle cx="570.2" cy="297.5" r="1.6"/><circle cx="570.5" cy="297.5" r="1.6"/><circle cx="570.8" cy="297.5" r="1.6"/><circle cx="571.1" cy="297.5" r="1.6"/><circle cx="571.4" cy="297.5" r="1.6"/><circle cx="571.7" cy="297.5" r="1.6"/><circle cx="572.0" cy="297.5" r="1.6"/><circle cx="572.3" cy="297.5" r="1.6"/><circle cx="572.6" cy="297.5" r="1.6"/><circle cx="572.9" cy="297.5" r="1.6"/><circle cx="573.2" cy="297.5" r="1.6"/><circle cx="573.5" cy="297.5" r="1.6"/></g>
<g fill="#283CF0" fill-opacity="0.58"><rect x="97.1" y="196.5" width="3.2" height="3.2"/><rect x="97.3" y="191.4" width="3.2" height="3.2"/><rect x="93.6" y="189.5" width="3.2" height="3.2"/><rect x="100.4" y="189.2" width="3.2" height="3.2"/><rect x="98.3" y="187.3" width="3.2" height="3.2"/><rect x="96.1" y="187.3" width="3.2" height="3.2"/><rect x="100.6" y="186.8" width="3.2" height="3.2"/><rect x="93.4" y="186.3" width="3.2" height="3.2"/><rect x="96.9" y="183.6" width="3.2" height="3.2"/><rect x="95.5" y="183.5" width="3.2" height="3.2"/><rect x="98.7" y="183.1" width="3.2" height="3.2"/><rect x="93.6" y="181.6" width="3.2" height="3.2"/><rect x="100.8" y="181.0" width="3.2" height="3.2"/><rect x="98.1" y="180.4" width="3.2" height="3.2"/><rect x="96.0" y="179.8" width="3.2" height="3.2"/><rect x="100.8" y="179.6" width="3.2" height="3.2"/><rect x="93.8" y="179.2" width="3.2" height="3.2"/><rect x="96.2" y="176.3" width="3.2" height="3.2"/><rect x="98.3" y="175.9" width="3.2" height="3.2"/><rect x="93.9" y="175.3" width="3.2" height="3.2"/><rect x="100.4" y="173.9" width="3.2" height="3.2"/><rect x="97.9" y="172.4" width="3.2" height="3.2"/><rect x="96.3" y="172.3" width="3.2" height="3.2"/><rect x="99.4" y="172.2" width="3.2" height="3.2"/><rect x="95.1" y="171.8" width="3.2" height="3.2"/><rect x="100.7" y="170.5" width="3.2" height="3.2"/><rect x="93.8" y="170.5" width="3.2" height="3.2"/><rect x="95.9" y="169.1" width="3.2" height="3.2"/><rect x="98.3" y="168.8" width="3.2" height="3.2"/><rect x="93.8" y="168.1" width="3.2" height="3.2"/><rect x="100.9" y="166.7" width="3.2" height="3.2"/><rect x="98.5" y="165.0" width="3.2" height="3.2"/><rect x="96.2" y="164.7" width="3.2" height="3.2"/><rect x="100.7" y="164.6" width="3.2" height="3.2"/><rect x="93.7" y="162.7" width="3.2" height="3.2"/><rect x="97.9" y="161.2" width="3.2" height="3.2"/><rect x="96.5" y="161.1" width="3.2" height="3.2"/><rect x="99.3" y="160.9" width="3.2" height="3.2"/><rect x="94.8" y="160.3" width="3.2" height="3.2"/><rect x="100.9" y="160.3" width="3.2" height="3.2"/><rect x="93.7" y="159.2" width="3.2" height="3.2"/><rect x="97.3" y="157.7" width="3.2" height="3.2"/><rect x="98.9" y="157.0" width="3.2" height="3.2"/><rect x="95.4" y="157.0" width="3.2" height="3.2"/><rect x="100.7" y="156.2" width="3.2" height="3.2"/><rect x="93.4" y="155.5" width="3.2" height="3.2"/><rect x="95.9" y="152.7" width="3.2" height="3.2"/><rect x="98.5" y="152.7" width="3.2" height="3.2"/><rect x="93.9" y="152.0" width="3.2" height="3.2"/><rect x="100.5" y="151.0" width="3.2" height="3.2"/><rect x="97.0" y="149.0" width="3.2" height="3.2"/><rect x="100.6" y="148.3" width="3.2" height="3.2"/><rect x="93.8" y="147.7" width="3.2" height="3.2"/><rect x="97.1" y="145.5" width="3.2" height="3.2"/><rect x="95.3" y="145.3" width="3.2" height="3.2"/><rect x="98.7" y="145.2" width="3.2" height="3.2"/><rect x="93.7" y="143.8" width="3.2" height="3.2"/><rect x="100.9" y="143.3" width="3.2" height="3.2"/><rect x="98.5" y="141.3" width="3.2" height="3.2"/><rect x="95.7" y="141.0" width="3.2" height="3.2"/><rect x="100.5" y="140.1" width="3.2" height="3.2"/><rect x="93.5" y="139.3" width="3.2" height="3.2"/><rect x="94.8" y="137.5" width="3.2" height="3.2"/><rect x="99.4" y="135.9" width="3.2" height="3.2"/><rect x="95.8" y="134.0" width="3.2" height="3.2"/><rect x="98.4" y="133.6" width="3.2" height="3.2"/><rect x="93.5" y="133.2" width="3.2" height="3.2"/><rect x="100.7" y="132.4" width="3.2" height="3.2"/><rect x="98.2" y="130.8" width="3.2" height="3.2"/><rect x="96.0" y="130.3" width="3.2" height="3.2"/><rect x="100.6" y="128.0" width="3.2" height="3.2"/><rect x="93.6" y="127.9" width="3.2" height="3.2"/><rect x="99.5" y="127.5" width="3.2" height="3.2"/><rect x="94.7" y="124.7" width="3.2" height="3.2"/><rect x="98.4" y="124.5" width="3.2" height="3.2"/><rect x="96.1" y="124.1" width="3.2" height="3.2"/><rect x="100.7" y="123.8" width="3.2" height="3.2"/><rect x="93.8" y="123.4" width="3.2" height="3.2"/><rect x="96.2" y="119.5" width="3.2" height="3.2"/><rect x="98.2" y="118.9" width="3.2" height="3.2"/><rect x="93.8" y="117.2" width="3.2" height="3.2"/><rect x="100.8" y="116.9" width="3.2" height="3.2"/><rect x="95.9" y="115.0" width="3.2" height="3.2"/><rect x="98.2" y="114.8" width="3.2" height="3.2"/><rect x="93.9" y="114.0" width="3.2" height="3.2"/><rect x="100.5" y="113.4" width="3.2" height="3.2"/><rect x="97.3" y="110.5" width="3.2" height="3.2"/><rect x="93.5" y="109.1" width="3.2" height="3.2"/><rect x="100.5" y="107.8" width="3.2" height="3.2"/><rect x="94.7" y="107.3" width="3.2" height="3.2"/><rect x="99.2" y="105.5" width="3.2" height="3.2"/><rect x="94.8" y="103.9" width="3.2" height="3.2"/><rect x="99.6" y="102.6" width="3.2" height="3.2"/><rect x="97.1" y="100.8" width="3.2" height="3.2"/><rect x="100.7" y="100.5" width="3.2" height="3.2"/><rect x="93.4" y="98.7" width="3.2" height="3.2"/><rect x="97.2" y="97.1" width="3.2" height="3.2"/><rect x="95.1" y="91.4" width="3.2" height="3.2"/><rect x="99.3" y="88.7" width="3.2" height="3.2"/><rect x="97.3" y="86.6" width="3.2" height="3.2"/><rect x="97.2" y="82.2" width="3.2" height="3.2"/><rect x="96.9" y="78.2" width="3.2" height="3.2"/><rect x="96.9" y="62.5" width="3.2" height="3.2"/><rect x="136.7" y="273.0" width="3.2" height="3.2"/><rect x="132.2" y="273.0" width="3.2" height="3.2"/><rect x="134.8" y="250.2" width="3.2" height="3.2"/><rect x="136.8" y="245.6" width="3.2" height="3.2"/><rect x="132.1" y="243.2" width="3.2" height="3.2"/><rect x="134.7" y="238.6" width="3.2" height="3.2"/><rect x="130.9" y="236.1" width="3.2" height="3.2"/><rect x="137.8" y="235.6" width="3.2" height="3.2"/><rect x="136.9" y="230.7" width="3.2" height="3.2"/><rect x="132.5" y="228.5" width="3.2" height="3.2"/><rect x="136.7" y="222.9" width="3.2" height="3.2"/><rect x="132.1" y="221.1" width="3.2" height="3.2"/><rect x="136.7" y="218.5" width="3.2" height="3.2"/><rect x="132.4" y="216.1" width="3.2" height="3.2"/><rect x="133.2" y="215.1" width="3.2" height="3.2"/><rect x="135.6" y="214.8" width="3.2" height="3.2"/><rect x="130.9" y="213.6" width="3.2" height="3.2"/><rect x="137.9" y="213.6" width="3.2" height="3.2"/><rect x="134.5" y="212.0" width="3.2" height="3.2"/><rect x="133.9" y="211.9" width="3.2" height="3.2"/><rect x="135.4" y="211.7" width="3.2" height="3.2"/><rect x="133.1" y="211.6" width="3.2" height="3.2"/><rect x="135.8" y="211.5" width="3.2" height="3.2"/><rect x="132.6" y="211.0" width="3.2" height="3.2"/><rect x="136.9" y="210.9" width="3.2" height="3.2"/><rect x="131.7" y="210.0" width="3.2" height="3.2"/><rect x="137.4" y="209.9" width="3.2" height="3.2"/><rect x="131.3" y="209.8" width="3.2" height="3.2"/><rect x="138.0" y="209.0" width="3.2" height="3.2"/><rect x="135.5" y="208.6" width="3.2" height="3.2"/><rect x="133.6" y="208.1" width="3.2" height="3.2"/><rect x="138.2" y="207.9" width="3.2" height="3.2"/><rect x="131.0" y="205.8" width="3.2" height="3.2"/><rect x="133.9" y="205.4" width="3.2" height="3.2"/><rect x="135.1" y="205.1" width="3.2" height="3.2"/><rect x="132.7" y="205.0" width="3.2" height="3.2"/><rect x="136.7" y="204.9" width="3.2" height="3.2"/><rect x="130.9" y="204.5" width="3.2" height="3.2"/><rect x="137.8" y="202.7" width="3.2" height="3.2"/><rect x="134.5" y="201.2" width="3.2" height="3.2"/><rect x="135.9" y="200.9" width="3.2" height="3.2"/><rect x="133.5" y="200.5" width="3.2" height="3.2"/><rect x="136.9" y="200.4" width="3.2" height="3.2"/><rect x="132.0" y="200.2" width="3.2" height="3.2"/><rect x="137.9" y="199.3" width="3.2" height="3.2"/><rect x="131.0" y="198.6" width="3.2" height="3.2"/><rect x="135.4" y="198.1" width="3.2" height="3.2"/><rect x="133.9" y="197.9" width="3.2" height="3.2"/><rect x="136.7" y="196.8" width="3.2" height="3.2"/><rect x="132.7" y="196.4" width="3.2" height="3.2"/><rect x="137.9" y="196.2" width="3.2" height="3.2"/><rect x="131.1" y="196.1" width="3.2" height="3.2"/><rect x="135.4" y="194.9" width="3.2" height="3.2"/><rect x="133.6" y="194.8" width="3.2" height="3.2"/><rect x="136.8" y="194.4" width="3.2" height="3.2"/><rect x="132.6" y="193.0" width="3.2" height="3.2"/><rect x="138.2" y="192.3" width="3.2" height="3.2"/><rect x="130.8" y="192.1" width="3.2" height="3.2"/><rect x="134.7" y="191.4" width="3.2" height="3.2"/><rect x="136.1" y="190.4" width="3.2" height="3.2"/><rect x="132.8" y="190.1" width="3.2" height="3.2"/><rect x="138.0" y="188.8" width="3.2" height="3.2"/><rect x="131.3" y="188.7" width="3.2" height="3.2"/><rect x="134.0" y="187.1" width="3.2" height="3.2"/><rect x="135.2" y="186.6" width="3.2" height="3.2"/><rect x="132.6" y="186.1" width="3.2" height="3.2"/><rect x="136.6" y="185.9" width="3.2" height="3.2"/><rect x="131.3" y="184.6" width="3.2" height="3.2"/><rect x="137.8" y="184.4" width="3.2" height="3.2"/><rect x="133.2" y="183.6" width="3.2" height="3.2"/><rect x="135.7" y="182.7" width="3.2" height="3.2"/><rect x="131.1" y="182.2" width="3.2" height="3.2"/><rect x="137.9" y="181.5" width="3.2" height="3.2"/><rect x="133.8" y="178.7" width="3.2" height="3.2"/><rect x="135.2" y="178.2" width="3.2" height="3.2"/><rect x="132.2" y="178.1" width="3.2" height="3.2"/><rect x="136.6" y="177.6" width="3.2" height="3.2"/><rect x="131.0" y="177.2" width="3.2" height="3.2"/><rect x="138.2" y="176.7" width="3.2" height="3.2"/><rect x="134.6" y="175.4" width="3.2" height="3.2"/><rect x="137.9" y="174.2" width="3.2" height="3.2"/><rect x="131.0" y="174.0" width="3.2" height="3.2"/><rect x="137.1" y="172.0" width="3.2" height="3.2"/><rect x="132.4" y="170.1" width="3.2" height="3.2"/><rect x="132.0" y="167.7" width="3.2" height="3.2"/><rect x="136.8" y="165.2" width="3.2" height="3.2"/><rect x="132.1" y="161.7" width="3.2" height="3.2"/><rect x="136.9" y="159.9" width="3.2" height="3.2"/><rect x="134.3" y="154.9" width="3.2" height="3.2"/><rect x="132.4" y="150.7" width="3.2" height="3.2"/><rect x="136.7" y="148.0" width="3.2" height="3.2"/><rect x="134.4" y="146.2" width="3.2" height="3.2"/><rect x="136.9" y="141.3" width="3.2" height="3.2"/><rect x="132.1" y="139.5" width="3.2" height="3.2"/><rect x="134.5" y="136.9" width="3.2" height="3.2"/><rect x="134.4" y="130.0" width="3.2" height="3.2"/><rect x="130.9" y="129.8" width="3.2" height="3.2"/><rect x="138.2" y="127.5" width="3.2" height="3.2"/><rect x="134.8" y="125.2" width="3.2" height="3.2"/><rect x="134.7" y="120.8" width="3.2" height="3.2"/><rect x="131.0" y="119.4" width="3.2" height="3.2"/><rect x="138.2" y="118.2" width="3.2" height="3.2"/><rect x="134.4" y="95.6" width="3.2" height="3.2"/><rect x="169.5" y="286.4" width="3.2" height="3.2"/><rect x="174.1" y="284.1" width="3.2" height="3.2"/><rect x="174.3" y="279.2" width="3.2" height="3.2"/><rect x="169.8" y="276.7" width="3.2" height="3.2"/><rect x="169.4" y="274.5" width="3.2" height="3.2"/><rect x="174.2" y="273.7" width="3.2" height="3.2"/><rect x="174.1" y="259.4" width="3.2" height="3.2"/><rect x="169.9" y="256.7" width="3.2" height="3.2"/><rect x="171.9" y="254.7" width="3.2" height="3.2"/><rect x="169.9" y="249.2" width="3.2" height="3.2"/><rect x="174.1" y="247.7" width="3.2" height="3.2"/><rect x="174.4" y="244.1" width="3.2" height="3.2"/><rect x="169.4" y="241.6" width="3.2" height="3.2"/><rect x="172.8" y="239.5" width="3.2" height="3.2"/><rect x="171.1" y="239.0" width="3.2" height="3.2"/><rect x="174.0" y="238.9" width="3.2" height="3.2"/><rect x="169.7" y="238.9" width="3.2" height="3.2"/><rect x="175.4" y="238.4" width="3.2" height="3.2"/><rect x="168.2" y="236.7" width="3.2" height="3.2"/><rect x="173.4" y="235.7" width="3.2" height="3.2"/><rect x="170.9" y="235.2" width="3.2" height="3.2"/><rect x="175.6" y="233.8" width="3.2" height="3.2"/><rect x="168.3" y="232.7" width="3.2" height="3.2"/><rect x="173.1" y="231.7" width="3.2" height="3.2"/><rect x="170.7" y="231.1" width="3.2" height="3.2"/><rect x="175.4" y="229.9" width="3.2" height="3.2"/><rect x="168.7" y="229.1" width="3.2" height="3.2"/><rect x="173.0" y="228.6" width="3.2" height="3.2"/><rect x="171.0" y="225.8" width="3.2" height="3.2"/><rect x="175.5" y="225.6" width="3.2" height="3.2"/><rect x="168.2" y="225.6" width="3.2" height="3.2"/><rect x="172.0" y="225.6" width="3.2" height="3.2"/><rect x="175.2" y="223.1" width="3.2" height="3.2"/><rect x="168.4" y="222.8" width="3.2" height="3.2"/><rect x="171.0" y="220.0" width="3.2" height="3.2"/><rect x="173.2" y="219.7" width="3.2" height="3.2"/><rect x="168.6" y="219.0" width="3.2" height="3.2"/><rect x="175.4" y="217.5" width="3.2" height="3.2"/><rect x="172.8" y="216.6" width="3.2" height="3.2"/><rect x="171.2" y="216.1" width="3.2" height="3.2"/><rect x="174.2" y="215.9" width="3.2" height="3.2"/><rect x="169.7" y="215.2" width="3.2" height="3.2"/><rect x="175.4" y="213.8" width="3.2" height="3.2"/><rect x="168.3" y="213.7" width="3.2" height="3.2"/><rect x="171.8" y="210.6" width="3.2" height="3.2"/><rect x="170.1" y="210.1" width="3.2" height="3.2"/><rect x="173.6" y="208.7" width="3.2" height="3.2"/><rect x="168.4" y="208.7" width="3.2" height="3.2"/><rect x="175.4" y="208.4" width="3.2" height="3.2"/><rect x="172.2" y="206.8" width="3.2" height="3.2"/><rect x="175.5" y="205.8" width="3.2" height="3.2"/><rect x="168.6" y="204.6" width="3.2" height="3.2"/><rect x="173.1" y="202.5" width="3.2" height="3.2"/><rect x="170.6" y="200.9" width="3.2" height="3.2"/><rect x="175.5" y="200.2" width="3.2" height="3.2"/><rect x="168.4" y="199.6" width="3.2" height="3.2"/><rect x="171.7" y="198.8" width="3.2" height="3.2"/><rect x="175.3" y="198.3" width="3.2" height="3.2"/><rect x="168.3" y="196.0" width="3.2" height="3.2"/><rect x="172.2" y="194.4" width="3.2" height="3.2"/><rect x="175.6" y="194.3" width="3.2" height="3.2"/><rect x="168.3" y="191.5" width="3.2" height="3.2"/><rect x="171.8" y="191.2" width="3.2" height="3.2"/><rect x="175.7" y="189.5" width="3.2" height="3.2"/><rect x="168.4" y="189.2" width="3.2" height="3.2"/><rect x="170.9" y="188.1" width="3.2" height="3.2"/><rect x="173.3" y="187.8" width="3.2" height="3.2"/><rect x="168.2" y="186.7" width="3.2" height="3.2"/><rect x="175.4" y="185.6" width="3.2" height="3.2"/><rect x="171.7" y="183.6" width="3.2" height="3.2"/><rect x="175.6" y="181.3" width="3.2" height="3.2"/><rect x="168.4" y="180.7" width="3.2" height="3.2"/><rect x="170.8" y="179.4" width="3.2" height="3.2"/><rect x="172.9" y="178.7" width="3.2" height="3.2"/><rect x="168.4" y="178.4" width="3.2" height="3.2"/><rect x="175.3" y="177.9" width="3.2" height="3.2"/><rect x="171.8" y="174.3" width="3.2" height="3.2"/><rect x="175.5" y="174.2" width="3.2" height="3.2"/><rect x="168.2" y="171.4" width="3.2" height="3.2"/><rect x="171.9" y="170.2" width="3.2" height="3.2"/><rect x="175.5" y="168.9" width="3.2" height="3.2"/><rect x="168.3" y="168.2" width="3.2" height="3.2"/><rect x="169.5" y="163.4" width="3.2" height="3.2"/><rect x="174.4" y="160.5" width="3.2" height="3.2"/><rect x="171.8" y="156.4" width="3.2" height="3.2"/><rect x="168.3" y="156.3" width="3.2" height="3.2"/><rect x="175.3" y="155.7" width="3.2" height="3.2"/><rect x="171.9" y="152.6" width="3.2" height="3.2"/><rect x="168.4" y="152.1" width="3.2" height="3.2"/><rect x="175.6" y="150.6" width="3.2" height="3.2"/><rect x="171.8" y="148.1" width="3.2" height="3.2"/><rect x="175.4" y="147.8" width="3.2" height="3.2"/><rect x="168.3" y="145.7" width="3.2" height="3.2"/><rect x="172.9" y="142.0" width="3.2" height="3.2"/><rect x="170.8" y="141.6" width="3.2" height="3.2"/><rect x="175.5" y="140.7" width="3.2" height="3.2"/><rect x="168.6" y="140.3" width="3.2" height="3.2"/><rect x="171.8" y="136.7" width="3.2" height="3.2"/><rect x="168.5" y="136.2" width="3.2" height="3.2"/><rect x="175.7" y="134.0" width="3.2" height="3.2"/><rect x="172.0" y="131.8" width="3.2" height="3.2"/><rect x="172.2" y="124.4" width="3.2" height="3.2"/><rect x="171.8" y="101.4" width="3.2" height="3.2"/><rect x="209.3" y="280.0" width="3.2" height="3.2"/><rect x="209.2" y="267.2" width="3.2" height="3.2"/><rect x="209.4" y="260.5" width="3.2" height="3.2"/><rect x="209.3" y="251.5" width="3.2" height="3.2"/><rect x="211.6" y="247.7" width="3.2" height="3.2"/><rect x="207.3" y="247.0" width="3.2" height="3.2"/><rect x="211.7" y="243.2" width="3.2" height="3.2"/><rect x="207.0" y="240.8" width="3.2" height="3.2"/><rect x="206.9" y="238.5" width="3.2" height="3.2"/><rect x="211.7" y="236.2" width="3.2" height="3.2"/><rect x="208.4" y="235.4" width="3.2" height="3.2"/><rect x="210.6" y="235.2" width="3.2" height="3.2"/><rect x="205.9" y="233.3" width="3.2" height="3.2"/><rect x="212.9" y="232.7" width="3.2" height="3.2"/><rect x="209.5" y="231.0" width="3.2" height="3.2"/><rect x="212.9" y="230.2" width="3.2" height="3.2"/><rect x="205.8" y="229.9" width="3.2" height="3.2"/><rect x="208.6" y="228.0" width="3.2" height="3.2"/><rect x="210.0" y="227.6" width="3.2" height="3.2"/><rect x="207.1" y="227.6" width="3.2" height="3.2"/><rect x="211.5" y="226.2" width="3.2" height="3.2"/><rect x="205.9" y="226.0" width="3.2" height="3.2"/><rect x="212.9" y="225.7" width="3.2" height="3.2"/><rect x="209.4" y="222.5" width="3.2" height="3.2"/><rect x="211.1" y="222.2" width="3.2" height="3.2"/><rect x="207.6" y="222.0" width="3.2" height="3.2"/><rect x="212.9" y="221.4" width="3.2" height="3.2"/><rect x="206.1" y="220.7" width="3.2" height="3.2"/><rect x="209.3" y="219.2" width="3.2" height="3.2"/><rect x="213.1" y="217.7" width="3.2" height="3.2"/><rect x="206.0" y="216.9" width="3.2" height="3.2"/><rect x="210.6" y="215.7" width="3.2" height="3.2"/><rect x="208.4" y="214.8" width="3.2" height="3.2"/><rect x="212.8" y="214.7" width="3.2" height="3.2"/><rect x="206.0" y="213.7" width="3.2" height="3.2"/><rect x="210.8" y="212.4" width="3.2" height="3.2"/><rect x="208.2" y="211.6" width="3.2" height="3.2"/><rect x="212.7" y="211.2" width="3.2" height="3.2"/><rect x="206.0" y="210.5" width="3.2" height="3.2"/><rect x="209.6" y="207.8" width="3.2" height="3.2"/><rect x="207.8" y="207.6" width="3.2" height="3.2"/><rect x="211.2" y="207.6" width="3.2" height="3.2"/><rect x="205.9" y="207.1" width="3.2" height="3.2"/><rect x="213.1" y="205.6" width="3.2" height="3.2"/><rect x="209.5" y="204.6" width="3.2" height="3.2"/><rect x="213.0" y="204.4" width="3.2" height="3.2"/><rect x="205.7" y="202.1" width="3.2" height="3.2"/><rect x="207.0" y="201.0" width="3.2" height="3.2"/><rect x="211.7" y="200.6" width="3.2" height="3.2"/><rect x="208.0" y="197.1" width="3.2" height="3.2"/><rect x="210.4" y="195.5" width="3.2" height="3.2"/><rect x="205.9" y="195.4" width="3.2" height="3.2"/><rect x="212.6" y="194.2" width="3.2" height="3.2"/><rect x="209.5" y="192.1" width="3.2" height="3.2"/><rect x="205.8" y="190.2" width="3.2" height="3.2"/><rect x="212.7" y="190.2" width="3.2" height="3.2"/><rect x="209.5" y="188.4" width="3.2" height="3.2"/><rect x="206.0" y="186.5" width="3.2" height="3.2"/><rect x="212.9" y="186.1" width="3.2" height="3.2"/><rect x="209.5" y="183.8" width="3.2" height="3.2"/><rect x="205.7" y="183.5" width="3.2" height="3.2"/><rect x="212.8" y="181.6" width="3.2" height="3.2"/><rect x="209.1" y="178.1" width="3.2" height="3.2"/><rect x="212.8" y="176.7" width="3.2" height="3.2"/><rect x="206.0" y="175.5" width="3.2" height="3.2"/><rect x="209.2" y="174.9" width="3.2" height="3.2"/><rect x="209.3" y="171.8" width="3.2" height="3.2"/><rect x="213.0" y="171.2" width="3.2" height="3.2"/><rect x="205.9" y="169.7" width="3.2" height="3.2"/><rect x="208.0" y="166.9" width="3.2" height="3.2"/><rect x="210.8" y="166.5" width="3.2" height="3.2"/><rect x="205.7" y="166.4" width="3.2" height="3.2"/><rect x="212.9" y="165.9" width="3.2" height="3.2"/><rect x="207.2" y="163.8" width="3.2" height="3.2"/><rect x="211.5" y="162.3" width="3.2" height="3.2"/><rect x="208.6" y="159.2" width="3.2" height="3.2"/><rect x="209.8" y="157.5" width="3.2" height="3.2"/><rect x="207.2" y="157.5" width="3.2" height="3.2"/><rect x="211.4" y="157.1" width="3.2" height="3.2"/><rect x="205.9" y="156.5" width="3.2" height="3.2"/><rect x="212.7" y="156.4" width="3.2" height="3.2"/><rect x="209.4" y="154.7" width="3.2" height="3.2"/><rect x="205.7" y="154.2" width="3.2" height="3.2"/><rect x="212.7" y="153.6" width="3.2" height="3.2"/><rect x="209.3" y="151.2" width="3.2" height="3.2"/><rect x="211.5" y="147.3" width="3.2" height="3.2"/><rect x="207.3" y="147.2" width="3.2" height="3.2"/><rect x="209.3" y="144.3" width="3.2" height="3.2"/><rect x="205.7" y="142.5" width="3.2" height="3.2"/><rect x="213.1" y="142.2" width="3.2" height="3.2"/><rect x="209.5" y="139.1" width="3.2" height="3.2"/><rect x="205.8" y="137.7" width="3.2" height="3.2"/><rect x="212.8" y="136.6" width="3.2" height="3.2"/><rect x="209.2" y="135.7" width="3.2" height="3.2"/><rect x="212.9" y="133.2" width="3.2" height="3.2"/><rect x="205.8" y="132.9" width="3.2" height="3.2"/><rect x="209.3" y="130.1" width="3.2" height="3.2"/><rect x="209.4" y="117.9" width="3.2" height="3.2"/><rect x="209.3" y="99.6" width="3.2" height="3.2"/><rect x="206.4" y="297.1" width="3.2" height="3.2"/><rect x="208.4" y="297.1" width="3.2" height="3.2"/><rect x="210.3" y="297.1" width="3.2" height="3.2"/><rect x="212.2" y="297.1" width="3.2" height="3.2"/><rect x="246.8" y="314.8" width="3.2" height="3.2"/><rect x="247.0" y="299.9" width="3.2" height="3.2"/><rect x="246.6" y="286.7" width="3.2" height="3.2"/><rect x="246.9" y="281.5" width="3.2" height="3.2"/><rect x="246.6" y="270.2" width="3.2" height="3.2"/><rect x="246.8" y="256.7" width="3.2" height="3.2"/><rect x="248.9" y="251.5" width="3.2" height="3.2"/><rect x="244.3" y="250.9" width="3.2" height="3.2"/><rect x="249.0" y="245.4" width="3.2" height="3.2"/><rect x="244.3" y="242.8" width="3.2" height="3.2"/><rect x="246.6" y="242.0" width="3.2" height="3.2"/><rect x="244.6" y="236.0" width="3.2" height="3.2"/><rect x="248.9" y="234.2" width="3.2" height="3.2"/><rect x="245.8" y="231.2" width="3.2" height="3.2"/><rect x="248.0" y="230.5" width="3.2" height="3.2"/><rect x="243.3" y="230.0" width="3.2" height="3.2"/><rect x="250.4" y="229.7" width="3.2" height="3.2"/><rect x="246.1" y="227.2" width="3.2" height="3.2"/><rect x="247.7" y="227.0" width="3.2" height="3.2"/><rect x="244.8" y="226.7" width="3.2" height="3.2"/><rect x="248.7" y="226.7" width="3.2" height="3.2"/><rect x="243.0" y="225.4" width="3.2" height="3.2"/><rect x="250.5" y="225.0" width="3.2" height="3.2"/><rect x="249.2" y="224.0" width="3.2" height="3.2"/><rect x="244.3" y="221.7" width="3.2" height="3.2"/><rect x="249.0" y="220.7" width="3.2" height="3.2"/><rect x="244.6" y="218.8" width="3.2" height="3.2"/><rect x="245.6" y="216.8" width="3.2" height="3.2"/><rect x="247.9" y="215.1" width="3.2" height="3.2"/><rect x="243.2" y="214.1" width="3.2" height="3.2"/><rect x="250.1" y="213.9" width="3.2" height="3.2"/><rect x="245.4" y="210.8" width="3.2" height="3.2"/><rect x="248.1" y="209.9" width="3.2" height="3.2"/><rect x="243.3" y="209.1" width="3.2" height="3.2"/><rect x="250.0" y="208.8" width="3.2" height="3.2"/><rect x="245.4" y="204.8" width="3.2" height="3.2"/><rect x="247.9" y="203.2" width="3.2" height="3.2"/><rect x="243.1" y="202.0" width="3.2" height="3.2"/><rect x="250.5" y="201.9" width="3.2" height="3.2"/><rect x="246.9" y="198.6" width="3.2" height="3.2"/><rect x="250.0" y="198.5" width="3.2" height="3.2"/><rect x="243.3" y="196.0" width="3.2" height="3.2"/><rect x="247.7" y="194.3" width="3.2" height="3.2"/><rect x="245.6" y="193.3" width="3.2" height="3.2"/><rect x="250.5" y="192.9" width="3.2" height="3.2"/><rect x="243.3" y="192.8" width="3.2" height="3.2"/><rect x="244.6" y="189.9" width="3.2" height="3.2"/><rect x="249.1" y="188.3" width="3.2" height="3.2"/><rect x="246.8" y="186.3" width="3.2" height="3.2"/><rect x="250.1" y="186.1" width="3.2" height="3.2"/><rect x="243.3" y="184.0" width="3.2" height="3.2"/><rect x="246.7" y="182.8" width="3.2" height="3.2"/><rect x="250.1" y="180.9" width="3.2" height="3.2"/><rect x="243.4" y="180.0" width="3.2" height="3.2"/><rect x="246.7" y="179.1" width="3.2" height="3.2"/><rect x="250.0" y="177.1" width="3.2" height="3.2"/><rect x="243.2" y="176.9" width="3.2" height="3.2"/><rect x="247.0" y="176.0" width="3.2" height="3.2"/><rect x="243.3" y="174.3" width="3.2" height="3.2"/><rect x="250.1" y="173.9" width="3.2" height="3.2"/><rect x="249.0" y="172.4" width="3.2" height="3.2"/><rect x="244.6" y="170.8" width="3.2" height="3.2"/><rect x="245.8" y="169.0" width="3.2" height="3.2"/><rect x="248.1" y="168.2" width="3.2" height="3.2"/><rect x="243.5" y="168.1" width="3.2" height="3.2"/><rect x="250.4" y="167.1" width="3.2" height="3.2"/><rect x="245.3" y="165.1" width="3.2" height="3.2"/><rect x="247.9" y="164.3" width="3.2" height="3.2"/><rect x="243.3" y="162.7" width="3.2" height="3.2"/><rect x="250.3" y="162.5" width="3.2" height="3.2"/><rect x="244.5" y="161.6" width="3.2" height="3.2"/><rect x="249.3" y="160.1" width="3.2" height="3.2"/><rect x="246.8" y="158.4" width="3.2" height="3.2"/><rect x="250.5" y="157.5" width="3.2" height="3.2"/><rect x="243.0" y="155.6" width="3.2" height="3.2"/><rect x="246.9" y="154.7" width="3.2" height="3.2"/><rect x="250.5" y="152.2" width="3.2" height="3.2"/><rect x="243.0" y="151.8" width="3.2" height="3.2"/><rect x="249.2" y="151.4" width="3.2" height="3.2"/><rect x="244.5" y="150.7" width="3.2" height="3.2"/><rect x="246.8" y="147.8" width="3.2" height="3.2"/><rect x="243.4" y="147.7" width="3.2" height="3.2"/><rect x="250.4" y="145.3" width="3.2" height="3.2"/><rect x="248.8" y="144.7" width="3.2" height="3.2"/><rect x="244.6" y="144.4" width="3.2" height="3.2"/><rect x="244.6" y="141.4" width="3.2" height="3.2"/><rect x="249.0" y="139.3" width="3.2" height="3.2"/><rect x="246.7" y="137.6" width="3.2" height="3.2"/><rect x="250.0" y="137.5" width="3.2" height="3.2"/><rect x="243.4" y="135.2" width="3.2" height="3.2"/><rect x="249.1" y="134.5" width="3.2" height="3.2"/><rect x="244.5" y="132.8" width="3.2" height="3.2"/><rect x="246.8" y="131.1" width="3.2" height="3.2"/><rect x="246.6" y="127.3" width="3.2" height="3.2"/><rect x="250.4" y="126.6" width="3.2" height="3.2"/><rect x="243.1" y="126.0" width="3.2" height="3.2"/><rect x="248.9" y="123.3" width="3.2" height="3.2"/><rect x="244.4" y="121.8" width="3.2" height="3.2"/><rect x="246.7" y="118.5" width="3.2" height="3.2"/><rect x="243.1" y="118.1" width="3.2" height="3.2"/><rect x="250.3" y="116.3" width="3.2" height="3.2"/><rect x="246.8" y="113.6" width="3.2" height="3.2"/><rect x="246.9" y="89.8" width="3.2" height="3.2"/><rect x="284.3" y="291.6" width="3.2" height="3.2"/><rect x="283.9" y="269.0" width="3.2" height="3.2"/><rect x="283.9" y="260.1" width="3.2" height="3.2"/><rect x="284.1" y="255.1" width="3.2" height="3.2"/><rect x="284.0" y="251.1" width="3.2" height="3.2"/><rect x="282.0" y="242.1" width="3.2" height="3.2"/><rect x="286.4" y="239.5" width="3.2" height="3.2"/><rect x="284.1" y="236.7" width="3.2" height="3.2"/><rect x="284.0" y="232.4" width="3.2" height="3.2"/><rect x="286.3" y="229.1" width="3.2" height="3.2"/><rect x="282.0" y="226.3" width="3.2" height="3.2"/><rect x="284.1" y="223.1" width="3.2" height="3.2"/><rect x="286.6" y="218.6" width="3.2" height="3.2"/><rect x="281.7" y="215.6" width="3.2" height="3.2"/><rect x="283.1" y="213.2" width="3.2" height="3.2"/><rect x="285.3" y="210.6" width="3.2" height="3.2"/><rect x="280.6" y="210.4" width="3.2" height="3.2"/><rect x="287.6" y="210.4" width="3.2" height="3.2"/><rect x="284.1" y="210.2" width="3.2" height="3.2"/><rect x="286.0" y="208.9" width="3.2" height="3.2"/><rect x="282.4" y="208.6" width="3.2" height="3.2"/><rect x="287.6" y="208.1" width="3.2" height="3.2"/><rect x="280.8" y="207.4" width="3.2" height="3.2"/><rect x="284.8" y="206.5" width="3.2" height="3.2"/><rect x="283.6" y="205.8" width="3.2" height="3.2"/><rect x="286.2" y="205.8" width="3.2" height="3.2"/><rect x="282.0" y="205.6" width="3.2" height="3.2"/><rect x="287.8" y="205.2" width="3.2" height="3.2"/><rect x="280.9" y="203.8" width="3.2" height="3.2"/><rect x="281.8" y="202.6" width="3.2" height="3.2"/><rect x="286.5" y="201.4" width="3.2" height="3.2"/><rect x="282.9" y="197.1" width="3.2" height="3.2"/><rect x="285.4" y="196.7" width="3.2" height="3.2"/><rect x="280.9" y="196.5" width="3.2" height="3.2"/><rect x="287.7" y="196.1" width="3.2" height="3.2"/><rect x="284.1" y="192.2" width="3.2" height="3.2"/><rect x="280.7" y="192.1" width="3.2" height="3.2"/><rect x="287.5" y="192.0" width="3.2" height="3.2"/><rect x="283.0" y="188.3" width="3.2" height="3.2"/><rect x="285.6" y="187.9" width="3.2" height="3.2"/><rect x="280.6" y="186.4" width="3.2" height="3.2"/><rect x="287.8" y="185.9" width="3.2" height="3.2"/><rect x="284.1" y="183.4" width="3.2" height="3.2"/><rect x="287.8" y="183.2" width="3.2" height="3.2"/><rect x="280.5" y="181.3" width="3.2" height="3.2"/><rect x="284.0" y="180.4" width="3.2" height="3.2"/><rect x="285.6" y="177.0" width="3.2" height="3.2"/><rect x="282.8" y="176.0" width="3.2" height="3.2"/><rect x="287.9" y="175.8" width="3.2" height="3.2"/><rect x="280.4" y="175.7" width="3.2" height="3.2"/><rect x="283.1" y="172.8" width="3.2" height="3.2"/><rect x="285.5" y="172.7" width="3.2" height="3.2"/><rect x="280.6" y="170.9" width="3.2" height="3.2"/><rect x="287.7" y="170.4" width="3.2" height="3.2"/><rect x="283.1" y="167.6" width="3.2" height="3.2"/><rect x="285.4" y="167.1" width="3.2" height="3.2"/><rect x="280.7" y="165.3" width="3.2" height="3.2"/><rect x="287.5" y="165.3" width="3.2" height="3.2"/><rect x="283.5" y="163.4" width="3.2" height="3.2"/><rect x="284.9" y="162.9" width="3.2" height="3.2"/><rect x="282.3" y="162.4" width="3.2" height="3.2"/><rect x="286.1" y="162.3" width="3.2" height="3.2"/><rect x="280.8" y="161.1" width="3.2" height="3.2"/><rect x="287.6" y="160.7" width="3.2" height="3.2"/><rect x="284.4" y="157.9" width="3.2" height="3.2"/><rect x="282.3" y="157.4" width="3.2" height="3.2"/><rect x="285.9" y="156.2" width="3.2" height="3.2"/><rect x="280.7" y="155.5" width="3.2" height="3.2"/><rect x="287.6" y="155.4" width="3.2" height="3.2"/><rect x="286.5" y="154.8" width="3.2" height="3.2"/><rect x="282.0" y="152.4" width="3.2" height="3.2"/><rect x="284.0" y="151.5" width="3.2" height="3.2"/><rect x="280.8" y="148.9" width="3.2" height="3.2"/><rect x="287.6" y="148.9" width="3.2" height="3.2"/><rect x="285.4" y="148.3" width="3.2" height="3.2"/><rect x="283.0" y="147.7" width="3.2" height="3.2"/><rect x="287.7" y="147.6" width="3.2" height="3.2"/><rect x="280.9" y="146.9" width="3.2" height="3.2"/><rect x="284.4" y="144.0" width="3.2" height="3.2"/><rect x="282.3" y="144.0" width="3.2" height="3.2"/><rect x="286.0" y="143.4" width="3.2" height="3.2"/><rect x="280.4" y="143.2" width="3.2" height="3.2"/><rect x="287.6" y="142.0" width="3.2" height="3.2"/><rect x="284.2" y="140.8" width="3.2" height="3.2"/><rect x="284.1" y="137.5" width="3.2" height="3.2"/><rect x="280.5" y="136.2" width="3.2" height="3.2"/><rect x="287.6" y="135.8" width="3.2" height="3.2"/><rect x="281.6" y="133.0" width="3.2" height="3.2"/><rect x="286.4" y="131.0" width="3.2" height="3.2"/><rect x="281.7" y="128.8" width="3.2" height="3.2"/><rect x="286.4" y="126.9" width="3.2" height="3.2"/><rect x="282.1" y="125.7" width="3.2" height="3.2"/><rect x="286.3" y="122.8" width="3.2" height="3.2"/><rect x="286.3" y="120.8" width="3.2" height="3.2"/><rect x="281.6" y="120.6" width="3.2" height="3.2"/><rect x="284.3" y="117.1" width="3.2" height="3.2"/><rect x="280.5" y="116.8" width="3.2" height="3.2"/><rect x="287.6" y="116.3" width="3.2" height="3.2"/><rect x="283.9" y="113.7" width="3.2" height="3.2"/><rect x="280.8" y="113.5" width="3.2" height="3.2"/><rect x="287.8" y="110.7" width="3.2" height="3.2"/><rect x="284.3" y="109.9" width="3.2" height="3.2"/><rect x="284.1" y="90.9" width="3.2" height="3.2"/><rect x="321.6" y="201.5" width="3.2" height="3.2"/><rect x="321.7" y="197.0" width="3.2" height="3.2"/><rect x="323.9" y="190.3" width="3.2" height="3.2"/><rect x="319.2" y="187.4" width="3.2" height="3.2"/><rect x="321.3" y="186.7" width="3.2" height="3.2"/><rect x="324.8" y="186.1" width="3.2" height="3.2"/><rect x="318.0" y="184.1" width="3.2" height="3.2"/><rect x="323.0" y="182.3" width="3.2" height="3.2"/><rect x="320.5" y="182.0" width="3.2" height="3.2"/><rect x="324.8" y="181.3" width="3.2" height="3.2"/><rect x="318.2" y="179.6" width="3.2" height="3.2"/><rect x="323.8" y="178.9" width="3.2" height="3.2"/><rect x="319.4" y="177.1" width="3.2" height="3.2"/><rect x="321.8" y="175.7" width="3.2" height="3.2"/><rect x="319.8" y="175.3" width="3.2" height="3.2"/><rect x="323.2" y="174.5" width="3.2" height="3.2"/><rect x="318.0" y="174.1" width="3.2" height="3.2"/><rect x="325.0" y="173.3" width="3.2" height="3.2"/><rect x="320.4" y="171.1" width="3.2" height="3.2"/><rect x="322.8" y="170.4" width="3.2" height="3.2"/><rect x="317.9" y="168.6" width="3.2" height="3.2"/><rect x="325.2" y="168.4" width="3.2" height="3.2"/><rect x="321.4" y="167.6" width="3.2" height="3.2"/><rect x="320.4" y="167.1" width="3.2" height="3.2"/><rect x="322.5" y="166.7" width="3.2" height="3.2"/><rect x="319.0" y="166.5" width="3.2" height="3.2"/><rect x="323.8" y="165.6" width="3.2" height="3.2"/><rect x="317.9" y="165.3" width="3.2" height="3.2"/><rect x="325.2" y="165.2" width="3.2" height="3.2"/><rect x="321.2" y="164.4" width="3.2" height="3.2"/><rect x="322.2" y="164.2" width="3.2" height="3.2"/><rect x="320.2" y="164.1" width="3.2" height="3.2"/><rect x="322.5" y="163.9" width="3.2" height="3.2"/><rect x="319.4" y="163.6" width="3.2" height="3.2"/><rect x="323.5" y="163.3" width="3.2" height="3.2"/><rect x="319.0" y="163.0" width="3.2" height="3.2"/><rect x="324.4" y="162.0" width="3.2" height="3.2"/><rect x="318.1" y="161.5" width="3.2" height="3.2"/><rect x="325.2" y="161.4" width="3.2" height="3.2"/><rect x="321.4" y="161.2" width="3.2" height="3.2"/><rect x="322.8" y="159.9" width="3.2" height="3.2"/><rect x="320.1" y="159.8" width="3.2" height="3.2"/><rect x="323.7" y="159.4" width="3.2" height="3.2"/><rect x="319.0" y="159.4" width="3.2" height="3.2"/><rect x="324.9" y="159.0" width="3.2" height="3.2"/><rect x="317.8" y="159.0" width="3.2" height="3.2"/><rect x="320.9" y="158.0" width="3.2" height="3.2"/><rect x="322.1" y="157.3" width="3.2" height="3.2"/><rect x="320.2" y="157.2" width="3.2" height="3.2"/><rect x="323.0" y="156.5" width="3.2" height="3.2"/><rect x="318.9" y="156.1" width="3.2" height="3.2"/><rect x="324.1" y="156.0" width="3.2" height="3.2"/><rect x="318.2" y="155.5" width="3.2" height="3.2"/><rect x="325.2" y="155.1" width="3.2" height="3.2"/><rect x="321.6" y="154.1" width="3.2" height="3.2"/><rect x="318.2" y="153.3" width="3.2" height="3.2"/><rect x="325.1" y="152.7" width="3.2" height="3.2"/><rect x="320.3" y="150.4" width="3.2" height="3.2"/><rect x="322.9" y="150.2" width="3.2" height="3.2"/><rect x="318.1" y="148.3" width="3.2" height="3.2"/><rect x="325.0" y="148.3" width="3.2" height="3.2"/><rect x="322.7" y="147.1" width="3.2" height="3.2"/><rect x="320.3" y="145.9" width="3.2" height="3.2"/><rect x="325.1" y="145.2" width="3.2" height="3.2"/><rect x="318.1" y="144.3" width="3.2" height="3.2"/><rect x="320.6" y="143.6" width="3.2" height="3.2"/><rect x="322.1" y="143.5" width="3.2" height="3.2"/><rect x="319.5" y="142.8" width="3.2" height="3.2"/><rect x="323.7" y="142.6" width="3.2" height="3.2"/><rect x="318.3" y="141.9" width="3.2" height="3.2"/><rect x="325.2" y="141.0" width="3.2" height="3.2"/><rect x="321.5" y="139.6" width="3.2" height="3.2"/><rect x="325.1" y="139.5" width="3.2" height="3.2"/><rect x="318.2" y="136.9" width="3.2" height="3.2"/><rect x="322.5" y="135.6" width="3.2" height="3.2"/><rect x="320.8" y="135.5" width="3.2" height="3.2"/><rect x="323.6" y="135.1" width="3.2" height="3.2"/><rect x="319.4" y="134.0" width="3.2" height="3.2"/><rect x="325.0" y="133.5" width="3.2" height="3.2"/><rect x="318.3" y="133.4" width="3.2" height="3.2"/><rect x="322.7" y="130.0" width="3.2" height="3.2"/><rect x="320.2" y="129.4" width="3.2" height="3.2"/><rect x="325.1" y="128.8" width="3.2" height="3.2"/><rect x="317.9" y="128.2" width="3.2" height="3.2"/><rect x="321.5" y="125.4" width="3.2" height="3.2"/><rect x="325.1" y="124.6" width="3.2" height="3.2"/><rect x="318.2" y="124.5" width="3.2" height="3.2"/><rect x="321.4" y="121.6" width="3.2" height="3.2"/><rect x="325.0" y="121.3" width="3.2" height="3.2"/><rect x="318.2" y="121.0" width="3.2" height="3.2"/><rect x="323.6" y="115.1" width="3.2" height="3.2"/><rect x="319.4" y="113.8" width="3.2" height="3.2"/><rect x="321.4" y="111.7" width="3.2" height="3.2"/><rect x="324.0" y="106.8" width="3.2" height="3.2"/><rect x="319.4" y="106.5" width="3.2" height="3.2"/><rect x="323.9" y="103.1" width="3.2" height="3.2"/><rect x="319.1" y="102.2" width="3.2" height="3.2"/><rect x="321.6" y="99.9" width="3.2" height="3.2"/><rect x="321.8" y="94.3" width="3.2" height="3.2"/><rect x="323.7" y="88.3" width="3.2" height="3.2"/><rect x="319.4" y="88.0" width="3.2" height="3.2"/><rect x="321.3" y="80.8" width="3.2" height="3.2"/><rect x="321.5" y="70.6" width="3.2" height="3.2"/><rect x="358.8" y="217.4" width="3.2" height="3.2"/><rect x="360.3" y="217.0" width="3.2" height="3.2"/><rect x="357.8" y="216.5" width="3.2" height="3.2"/><rect x="361.3" y="216.0" width="3.2" height="3.2"/><rect x="356.5" y="215.8" width="3.2" height="3.2"/><rect x="362.6" y="214.6" width="3.2" height="3.2"/><rect x="355.5" y="214.4" width="3.2" height="3.2"/><rect x="358.4" y="214.2" width="3.2" height="3.2"/><rect x="359.8" y="213.6" width="3.2" height="3.2"/><rect x="357.0" y="212.8" width="3.2" height="3.2"/><rect x="361.1" y="212.0" width="3.2" height="3.2"/><rect x="355.4" y="211.8" width="3.2" height="3.2"/><rect x="362.5" y="211.5" width="3.2" height="3.2"/><rect x="359.0" y="211.1" width="3.2" height="3.2"/><rect x="357.4" y="210.3" width="3.2" height="3.2"/><rect x="360.9" y="208.7" width="3.2" height="3.2"/><rect x="355.2" y="208.7" width="3.2" height="3.2"/><rect x="362.6" y="208.4" width="3.2" height="3.2"/><rect x="358.7" y="207.7" width="3.2" height="3.2"/><rect x="359.5" y="207.0" width="3.2" height="3.2"/><rect x="357.8" y="206.4" width="3.2" height="3.2"/><rect x="359.9" y="206.4" width="3.2" height="3.2"/><rect x="357.3" y="206.1" width="3.2" height="3.2"/><rect x="360.8" y="206.1" width="3.2" height="3.2"/><rect x="356.6" y="206.0" width="3.2" height="3.2"/><rect x="361.2" y="205.8" width="3.2" height="3.2"/><rect x="355.9" y="205.4" width="3.2" height="3.2"/><rect x="361.9" y="205.2" width="3.2" height="3.2"/><rect x="355.4" y="204.9" width="3.2" height="3.2"/><rect x="362.6" y="204.8" width="3.2" height="3.2"/><rect x="359.1" y="204.4" width="3.2" height="3.2"/><rect x="359.2" y="204.3" width="3.2" height="3.2"/><rect x="358.3" y="203.7" width="3.2" height="3.2"/><rect x="360.1" y="203.6" width="3.2" height="3.2"/><rect x="358.1" y="203.4" width="3.2" height="3.2"/><rect x="360.6" y="203.3" width="3.2" height="3.2"/><rect x="357.3" y="203.3" width="3.2" height="3.2"/><rect x="360.7" y="202.8" width="3.2" height="3.2"/><rect x="357.1" y="202.6" width="3.2" height="3.2"/><rect x="361.6" y="202.6" width="3.2" height="3.2"/><rect x="356.2" y="202.3" width="3.2" height="3.2"/><rect x="362.2" y="202.2" width="3.2" height="3.2"/><rect x="356.0" y="202.1" width="3.2" height="3.2"/><rect x="362.2" y="201.8" width="3.2" height="3.2"/><rect x="355.4" y="201.4" width="3.2" height="3.2"/><rect x="358.8" y="201.3" width="3.2" height="3.2"/><rect x="360.0" y="201.1" width="3.2" height="3.2"/><rect x="358.3" y="200.9" width="3.2" height="3.2"/><rect x="360.5" y="200.5" width="3.2" height="3.2"/><rect x="357.2" y="200.4" width="3.2" height="3.2"/><rect x="361.5" y="200.3" width="3.2" height="3.2"/><rect x="356.4" y="200.1" width="3.2" height="3.2"/><rect x="362.3" y="199.4" width="3.2" height="3.2"/><rect x="355.4" y="199.3" width="3.2" height="3.2"/><rect x="359.4" y="198.1" width="3.2" height="3.2"/><rect x="358.4" y="198.0" width="3.2" height="3.2"/><rect x="360.5" y="197.1" width="3.2" height="3.2"/><rect x="357.7" y="197.1" width="3.2" height="3.2"/><rect x="361.7" y="196.7" width="3.2" height="3.2"/><rect x="356.7" y="196.7" width="3.2" height="3.2"/><rect x="362.6" y="196.3" width="3.2" height="3.2"/><rect x="355.3" y="196.2" width="3.2" height="3.2"/><rect x="358.9" y="195.0" width="3.2" height="3.2"/><rect x="360.8" y="194.7" width="3.2" height="3.2"/><rect x="357.3" y="194.5" width="3.2" height="3.2"/><rect x="362.4" y="192.4" width="3.2" height="3.2"/><rect x="355.7" y="192.0" width="3.2" height="3.2"/><rect x="358.7" y="191.8" width="3.2" height="3.2"/><rect x="359.9" y="190.3" width="3.2" height="3.2"/><rect x="357.6" y="190.2" width="3.2" height="3.2"/><rect x="361.4" y="189.7" width="3.2" height="3.2"/><rect x="356.8" y="189.3" width="3.2" height="3.2"/><rect x="362.2" y="189.3" width="3.2" height="3.2"/><rect x="355.3" y="189.3" width="3.2" height="3.2"/><rect x="359.1" y="188.4" width="3.2" height="3.2"/><rect x="360.9" y="187.9" width="3.2" height="3.2"/><rect x="357.1" y="187.3" width="3.2" height="3.2"/><rect x="362.3" y="186.1" width="3.2" height="3.2"/><rect x="355.7" y="185.6" width="3.2" height="3.2"/><rect x="359.1" y="184.3" width="3.2" height="3.2"/><rect x="357.2" y="184.1" width="3.2" height="3.2"/><rect x="360.8" y="183.3" width="3.2" height="3.2"/><rect x="355.6" y="182.4" width="3.2" height="3.2"/><rect x="362.5" y="181.9" width="3.2" height="3.2"/><rect x="359.0" y="180.4" width="3.2" height="3.2"/><rect x="362.5" y="180.0" width="3.2" height="3.2"/><rect x="355.4" y="179.6" width="3.2" height="3.2"/><rect x="357.6" y="177.1" width="3.2" height="3.2"/><rect x="360.4" y="176.8" width="3.2" height="3.2"/><rect x="355.3" y="175.8" width="3.2" height="3.2"/><rect x="362.3" y="174.5" width="3.2" height="3.2"/><rect x="356.9" y="173.0" width="3.2" height="3.2"/><rect x="361.5" y="170.4" width="3.2" height="3.2"/><rect x="356.8" y="166.5" width="3.2" height="3.2"/><rect x="361.4" y="166.4" width="3.2" height="3.2"/><rect x="356.4" y="162.3" width="3.2" height="3.2"/><rect x="361.4" y="159.6" width="3.2" height="3.2"/><rect x="359.1" y="156.8" width="3.2" height="3.2"/><rect x="358.7" y="152.2" width="3.2" height="3.2"/><rect x="358.9" y="142.8" width="3.2" height="3.2"/><rect x="359.2" y="137.6" width="3.2" height="3.2"/><rect x="359.0" y="118.0" width="3.2" height="3.2"/><rect x="359.0" y="82.0" width="3.2" height="3.2"/><rect x="396.2" y="281.2" width="3.2" height="3.2"/><rect x="396.1" y="256.8" width="3.2" height="3.2"/><rect x="400.0" y="255.1" width="3.2" height="3.2"/><rect x="392.8" y="254.2" width="3.2" height="3.2"/><rect x="393.9" y="252.8" width="3.2" height="3.2"/><rect x="398.6" y="252.6" width="3.2" height="3.2"/><rect x="395.4" y="249.8" width="3.2" height="3.2"/><rect x="397.6" y="249.7" width="3.2" height="3.2"/><rect x="393.0" y="248.6" width="3.2" height="3.2"/><rect x="400.1" y="248.0" width="3.2" height="3.2"/><rect x="397.6" y="246.8" width="3.2" height="3.2"/><rect x="395.0" y="246.2" width="3.2" height="3.2"/><rect x="399.9" y="245.0" width="3.2" height="3.2"/><rect x="393.1" y="245.0" width="3.2" height="3.2"/><rect x="396.2" y="242.3" width="3.2" height="3.2"/><rect x="394.6" y="242.2" width="3.2" height="3.2"/><rect x="397.9" y="242.2" width="3.2" height="3.2"/><rect x="392.8" y="239.9" width="3.2" height="3.2"/><rect x="399.6" y="239.5" width="3.2" height="3.2"/><rect x="397.0" y="239.2" width="3.2" height="3.2"/><rect x="396.0" y="238.8" width="3.2" height="3.2"/><rect x="398.0" y="237.4" width="3.2" height="3.2"/><rect x="394.8" y="237.1" width="3.2" height="3.2"/><rect x="398.8" y="237.1" width="3.2" height="3.2"/><rect x="393.6" y="236.8" width="3.2" height="3.2"/><rect x="400.0" y="236.5" width="3.2" height="3.2"/><rect x="392.9" y="236.3" width="3.2" height="3.2"/><rect x="396.9" y="233.5" width="3.2" height="3.2"/><rect x="395.6" y="233.0" width="3.2" height="3.2"/><rect x="398.2" y="232.7" width="3.2" height="3.2"/><rect x="394.1" y="232.6" width="3.2" height="3.2"/><rect x="399.6" y="232.4" width="3.2" height="3.2"/><rect x="392.8" y="230.5" width="3.2" height="3.2"/><rect x="397.2" y="230.4" width="3.2" height="3.2"/><rect x="395.7" y="229.6" width="3.2" height="3.2"/><rect x="398.6" y="229.0" width="3.2" height="3.2"/><rect x="394.3" y="229.0" width="3.2" height="3.2"/><rect x="399.7" y="228.5" width="3.2" height="3.2"/><rect x="392.7" y="228.3" width="3.2" height="3.2"/><rect x="396.4" y="227.0" width="3.2" height="3.2"/><rect x="394.7" y="226.2" width="3.2" height="3.2"/><rect x="398.2" y="225.4" width="3.2" height="3.2"/><rect x="392.6" y="225.3" width="3.2" height="3.2"/><rect x="399.7" y="224.7" width="3.2" height="3.2"/><rect x="396.5" y="223.8" width="3.2" height="3.2"/><rect x="398.3" y="223.7" width="3.2" height="3.2"/><rect x="394.6" y="223.5" width="3.2" height="3.2"/><rect x="399.7" y="222.5" width="3.2" height="3.2"/><rect x="392.6" y="221.2" width="3.2" height="3.2"/><rect x="396.3" y="219.9" width="3.2" height="3.2"/><rect x="394.8" y="219.8" width="3.2" height="3.2"/><rect x="398.0" y="217.8" width="3.2" height="3.2"/><rect x="392.7" y="217.6" width="3.2" height="3.2"/><rect x="399.6" y="217.1" width="3.2" height="3.2"/><rect x="396.5" y="216.6" width="3.2" height="3.2"/><rect x="397.4" y="216.0" width="3.2" height="3.2"/><rect x="395.3" y="216.0" width="3.2" height="3.2"/><rect x="397.9" y="215.8" width="3.2" height="3.2"/><rect x="394.6" y="215.6" width="3.2" height="3.2"/><rect x="398.8" y="215.2" width="3.2" height="3.2"/><rect x="393.8" y="214.7" width="3.2" height="3.2"/><rect x="400.1" y="214.3" width="3.2" height="3.2"/><rect x="393.0" y="213.8" width="3.2" height="3.2"/><rect x="397.6" y="213.0" width="3.2" height="3.2"/><rect x="395.1" y="212.9" width="3.2" height="3.2"/><rect x="400.0" y="210.9" width="3.2" height="3.2"/><rect x="392.7" y="210.5" width="3.2" height="3.2"/><rect x="395.3" y="208.4" width="3.2" height="3.2"/><rect x="397.7" y="207.8" width="3.2" height="3.2"/><rect x="392.8" y="207.3" width="3.2" height="3.2"/><rect x="400.1" y="206.6" width="3.2" height="3.2"/><rect x="396.2" y="204.6" width="3.2" height="3.2"/><rect x="394.7" y="204.5" width="3.2" height="3.2"/><rect x="398.0" y="203.7" width="3.2" height="3.2"/><rect x="392.7" y="202.7" width="3.2" height="3.2"/><rect x="399.6" y="202.5" width="3.2" height="3.2"/><rect x="396.2" y="200.5" width="3.2" height="3.2"/><rect x="398.8" y="197.3" width="3.2" height="3.2"/><rect x="393.9" y="195.1" width="3.2" height="3.2"/><rect x="396.2" y="193.8" width="3.2" height="3.2"/><rect x="392.8" y="193.0" width="3.2" height="3.2"/><rect x="400.1" y="191.8" width="3.2" height="3.2"/><rect x="394.2" y="184.6" width="3.2" height="3.2"/><rect x="398.9" y="183.2" width="3.2" height="3.2"/><rect x="394.3" y="179.9" width="3.2" height="3.2"/><rect x="398.7" y="178.2" width="3.2" height="3.2"/><rect x="396.3" y="176.7" width="3.2" height="3.2"/><rect x="396.4" y="170.9" width="3.2" height="3.2"/><rect x="396.4" y="163.1" width="3.2" height="3.2"/><rect x="396.5" y="158.9" width="3.2" height="3.2"/><rect x="392.7" y="157.3" width="3.2" height="3.2"/><rect x="399.6" y="157.1" width="3.2" height="3.2"/><rect x="396.3" y="146.9" width="3.2" height="3.2"/><rect x="396.4" y="138.8" width="3.2" height="3.2"/><rect x="396.4" y="122.2" width="3.2" height="3.2"/><rect x="394.1" y="295.9" width="3.2" height="3.2"/><rect x="395.0" y="295.9" width="3.2" height="3.2"/><rect x="395.9" y="295.9" width="3.2" height="3.2"/><rect x="396.8" y="295.9" width="3.2" height="3.2"/><rect x="397.7" y="295.9" width="3.2" height="3.2"/><rect x="398.5" y="295.9" width="3.2" height="3.2"/><rect x="433.8" y="279.4" width="3.2" height="3.2"/><rect x="435.8" y="257.3" width="3.2" height="3.2"/><rect x="431.3" y="255.4" width="3.2" height="3.2"/><rect x="432.6" y="252.1" width="3.2" height="3.2"/><rect x="434.9" y="251.8" width="3.2" height="3.2"/><rect x="430.3" y="249.3" width="3.2" height="3.2"/><rect x="437.3" y="249.3" width="3.2" height="3.2"/><rect x="431.4" y="248.7" width="3.2" height="3.2"/><rect x="436.2" y="246.7" width="3.2" height="3.2"/><rect x="432.8" y="243.9" width="3.2" height="3.2"/><rect x="435.2" y="243.2" width="3.2" height="3.2"/><rect x="430.4" y="242.5" width="3.2" height="3.2"/><rect x="437.4" y="241.3" width="3.2" height="3.2"/><rect x="433.1" y="239.2" width="3.2" height="3.2"/><rect x="434.3" y="239.0" width="3.2" height="3.2"/><rect x="431.5" y="238.5" width="3.2" height="3.2"/><rect x="435.9" y="237.9" width="3.2" height="3.2"/><rect x="430.1" y="236.4" width="3.2" height="3.2"/><rect x="437.3" y="236.3" width="3.2" height="3.2"/><rect x="432.6" y="236.0" width="3.2" height="3.2"/><rect x="434.9" y="234.6" width="3.2" height="3.2"/><rect x="430.1" y="234.0" width="3.2" height="3.2"/><rect x="437.2" y="233.1" width="3.2" height="3.2"/><rect x="433.9" y="231.7" width="3.2" height="3.2"/><rect x="432.5" y="231.4" width="3.2" height="3.2"/><rect x="434.8" y="231.1" width="3.2" height="3.2"/><rect x="431.4" y="230.7" width="3.2" height="3.2"/><rect x="436.0" y="230.5" width="3.2" height="3.2"/><rect x="430.3" y="229.3" width="3.2" height="3.2"/><rect x="437.4" y="229.1" width="3.2" height="3.2"/><rect x="432.7" y="228.7" width="3.2" height="3.2"/><rect x="435.0" y="228.6" width="3.2" height="3.2"/><rect x="430.5" y="225.9" width="3.2" height="3.2"/><rect x="437.2" y="225.8" width="3.2" height="3.2"/><rect x="435.0" y="224.5" width="3.2" height="3.2"/><rect x="432.5" y="223.9" width="3.2" height="3.2"/><rect x="437.4" y="223.6" width="3.2" height="3.2"/><rect x="430.2" y="223.5" width="3.2" height="3.2"/><rect x="433.8" y="221.3" width="3.2" height="3.2"/><rect x="431.9" y="221.0" width="3.2" height="3.2"/><rect x="435.3" y="219.9" width="3.2" height="3.2"/><rect x="430.1" y="219.3" width="3.2" height="3.2"/><rect x="437.2" y="218.7" width="3.2" height="3.2"/><rect x="433.6" y="218.2" width="3.2" height="3.2"/><rect x="430.5" y="217.5" width="3.2" height="3.2"/><rect x="437.5" y="216.3" width="3.2" height="3.2"/><rect x="433.6" y="214.0" width="3.2" height="3.2"/><rect x="430.0" y="213.2" width="3.2" height="3.2"/><rect x="437.4" y="211.8" width="3.2" height="3.2"/><rect x="433.6" y="210.2" width="3.2" height="3.2"/><rect x="435.7" y="209.8" width="3.2" height="3.2"/><rect x="432.1" y="209.8" width="3.2" height="3.2"/><rect x="437.4" y="207.6" width="3.2" height="3.2"/><rect x="430.4" y="207.4" width="3.2" height="3.2"/><rect x="434.9" y="205.2" width="3.2" height="3.2"/><rect x="432.4" y="204.9" width="3.2" height="3.2"/><rect x="437.2" y="202.6" width="3.2" height="3.2"/><rect x="430.2" y="202.5" width="3.2" height="3.2"/><rect x="431.3" y="201.7" width="3.2" height="3.2"/><rect x="436.1" y="199.1" width="3.2" height="3.2"/><rect x="434.8" y="198.3" width="3.2" height="3.2"/><rect x="432.4" y="197.2" width="3.2" height="3.2"/><rect x="437.3" y="196.7" width="3.2" height="3.2"/><rect x="430.3" y="195.7" width="3.2" height="3.2"/><rect x="433.7" y="193.4" width="3.2" height="3.2"/><rect x="430.5" y="193.2" width="3.2" height="3.2"/><rect x="437.4" y="192.9" width="3.2" height="3.2"/><rect x="431.6" y="190.3" width="3.2" height="3.2"/><rect x="435.9" y="188.4" width="3.2" height="3.2"/><rect x="434.9" y="186.7" width="3.2" height="3.2"/><rect x="432.6" y="186.4" width="3.2" height="3.2"/><rect x="437.5" y="185.4" width="3.2" height="3.2"/><rect x="430.3" y="184.0" width="3.2" height="3.2"/><rect x="436.3" y="183.2" width="3.2" height="3.2"/><rect x="431.4" y="180.6" width="3.2" height="3.2"/><rect x="436.2" y="178.8" width="3.2" height="3.2"/><rect x="431.5" y="176.0" width="3.2" height="3.2"/><rect x="431.5" y="172.2" width="3.2" height="3.2"/><rect x="435.9" y="171.1" width="3.2" height="3.2"/><rect x="436.0" y="168.2" width="3.2" height="3.2"/><rect x="431.4" y="165.3" width="3.2" height="3.2"/><rect x="433.6" y="163.3" width="3.2" height="3.2"/><rect x="435.9" y="159.3" width="3.2" height="3.2"/><rect x="431.2" y="158.4" width="3.2" height="3.2"/><rect x="431.6" y="153.3" width="3.2" height="3.2"/><rect x="436.0" y="151.0" width="3.2" height="3.2"/><rect x="433.8" y="149.2" width="3.2" height="3.2"/><rect x="431.3" y="145.6" width="3.2" height="3.2"/><rect x="436.2" y="142.7" width="3.2" height="3.2"/><rect x="436.2" y="141.8" width="3.2" height="3.2"/><rect x="431.3" y="138.8" width="3.2" height="3.2"/><rect x="431.5" y="136.8" width="3.2" height="3.2"/><rect x="435.9" y="133.9" width="3.2" height="3.2"/><rect x="433.6" y="131.3" width="3.2" height="3.2"/><rect x="433.7" y="94.9" width="3.2" height="3.2"/><rect x="431.6" y="300.6" width="3.2" height="3.2"/><rect x="432.5" y="300.6" width="3.2" height="3.2"/><rect x="433.3" y="300.6" width="3.2" height="3.2"/><rect x="434.2" y="300.6" width="3.2" height="3.2"/><rect x="435.0" y="300.6" width="3.2" height="3.2"/><rect x="435.8" y="300.6" width="3.2" height="3.2"/><rect x="471.0" y="312.5" width="3.2" height="3.2"/><rect x="471.0" y="303.2" width="3.2" height="3.2"/><rect x="468.7" y="283.5" width="3.2" height="3.2"/><rect x="473.5" y="281.1" width="3.2" height="3.2"/><rect x="471.3" y="275.7" width="3.2" height="3.2"/><rect x="471.4" y="271.0" width="3.2" height="3.2"/><rect x="469.6" y="270.0" width="3.2" height="3.2"/><rect x="473.0" y="270.0" width="3.2" height="3.2"/><rect x="467.6" y="269.4" width="3.2" height="3.2"/><rect x="474.5" y="268.1" width="3.2" height="3.2"/><rect x="469.8" y="267.5" width="3.2" height="3.2"/><rect x="472.2" y="267.0" width="3.2" height="3.2"/><rect x="467.4" y="266.8" width="3.2" height="3.2"/><rect x="474.7" y="264.9" width="3.2" height="3.2"/><rect x="471.4" y="264.1" width="3.2" height="3.2"/><rect x="472.5" y="263.7" width="3.2" height="3.2"/><rect x="470.0" y="263.4" width="3.2" height="3.2"/><rect x="473.4" y="262.3" width="3.2" height="3.2"/><rect x="468.7" y="261.8" width="3.2" height="3.2"/><rect x="474.4" y="261.7" width="3.2" height="3.2"/><rect x="467.5" y="261.3" width="3.2" height="3.2"/><rect x="471.0" y="261.1" width="3.2" height="3.2"/><rect x="469.2" y="260.5" width="3.2" height="3.2"/><rect x="473.1" y="259.0" width="3.2" height="3.2"/><rect x="467.6" y="258.7" width="3.2" height="3.2"/><rect x="474.8" y="258.5" width="3.2" height="3.2"/><rect x="471.4" y="257.9" width="3.2" height="3.2"/><rect x="471.8" y="257.8" width="3.2" height="3.2"/><rect x="470.3" y="257.5" width="3.2" height="3.2"/><rect x="473.0" y="257.4" width="3.2" height="3.2"/><rect x="469.2" y="256.7" width="3.2" height="3.2"/><rect x="474.0" y="256.6" width="3.2" height="3.2"/><rect x="468.4" y="256.0" width="3.2" height="3.2"/><rect x="474.7" y="255.9" width="3.2" height="3.2"/><rect x="467.4" y="255.4" width="3.2" height="3.2"/><rect x="471.3" y="254.7" width="3.2" height="3.2"/><rect x="470.9" y="254.6" width="3.2" height="3.2"/><rect x="472.5" y="254.4" width="3.2" height="3.2"/><rect x="470.2" y="254.4" width="3.2" height="3.2"/><rect x="473.1" y="254.2" width="3.2" height="3.2"/><rect x="469.0" y="253.7" width="3.2" height="3.2"/><rect x="474.0" y="253.0" width="3.2" height="3.2"/><rect x="468.4" y="252.9" width="3.2" height="3.2"/><rect x="474.8" y="252.8" width="3.2" height="3.2"/><rect x="467.7" y="251.9" width="3.2" height="3.2"/><rect x="471.0" y="251.0" width="3.2" height="3.2"/><rect x="470.3" y="250.8" width="3.2" height="3.2"/><rect x="471.6" y="250.0" width="3.2" height="3.2"/><rect x="469.7" y="249.9" width="3.2" height="3.2"/><rect x="472.4" y="249.9" width="3.2" height="3.2"/><rect x="469.3" y="249.4" width="3.2" height="3.2"/><rect x="473.0" y="249.2" width="3.2" height="3.2"/><rect x="468.5" y="249.1" width="3.2" height="3.2"/><rect x="473.8" y="248.5" width="3.2" height="3.2"/><rect x="467.5" y="248.2" width="3.2" height="3.2"/><rect x="474.9" y="248.0" width="3.2" height="3.2"/><rect x="471.7" y="247.6" width="3.2" height="3.2"/><rect x="470.7" y="247.2" width="3.2" height="3.2"/><rect x="472.6" y="247.0" width="3.2" height="3.2"/><rect x="469.6" y="246.3" width="3.2" height="3.2"/><rect x="473.5" y="245.6" width="3.2" height="3.2"/><rect x="468.7" y="245.4" width="3.2" height="3.2"/><rect x="474.6" y="245.4" width="3.2" height="3.2"/><rect x="467.7" y="244.6" width="3.2" height="3.2"/><rect x="470.4" y="244.3" width="3.2" height="3.2"/><rect x="471.6" y="243.6" width="3.2" height="3.2"/><rect x="469.6" y="243.5" width="3.2" height="3.2"/><rect x="472.9" y="243.0" width="3.2" height="3.2"/><rect x="468.7" y="242.8" width="3.2" height="3.2"/><rect x="473.5" y="241.9" width="3.2" height="3.2"/><rect x="467.6" y="241.8" width="3.2" height="3.2"/><rect x="474.4" y="241.8" width="3.2" height="3.2"/><rect x="470.9" y="241.1" width="3.2" height="3.2"/><rect x="469.8" y="240.9" width="3.2" height="3.2"/><rect x="472.3" y="240.9" width="3.2" height="3.2"/><rect x="468.8" y="240.7" width="3.2" height="3.2"/><rect x="473.3" y="240.1" width="3.2" height="3.2"/><rect x="467.7" y="238.6" width="3.2" height="3.2"/><rect x="474.6" y="238.2" width="3.2" height="3.2"/><rect x="468.6" y="237.5" width="3.2" height="3.2"/><rect x="473.6" y="237.2" width="3.2" height="3.2"/><rect x="471.0" y="233.3" width="3.2" height="3.2"/><rect x="474.5" y="232.2" width="3.2" height="3.2"/><rect x="467.7" y="231.3" width="3.2" height="3.2"/><rect x="473.7" y="229.7" width="3.2" height="3.2"/><rect x="468.7" y="228.8" width="3.2" height="3.2"/><rect x="470.9" y="226.2" width="3.2" height="3.2"/><rect x="474.6" y="226.1" width="3.2" height="3.2"/><rect x="467.9" y="225.7" width="3.2" height="3.2"/><rect x="473.3" y="222.6" width="3.2" height="3.2"/><rect x="468.9" y="220.3" width="3.2" height="3.2"/><rect x="468.7" y="219.0" width="3.2" height="3.2"/><rect x="473.3" y="218.4" width="3.2" height="3.2"/><rect x="468.7" y="210.2" width="3.2" height="3.2"/><rect x="473.2" y="208.8" width="3.2" height="3.2"/><rect x="469.0" y="204.7" width="3.2" height="3.2"/><rect x="473.6" y="203.6" width="3.2" height="3.2"/><rect x="471.0" y="191.2" width="3.2" height="3.2"/><rect x="471.2" y="187.4" width="3.2" height="3.2"/><rect x="468.9" y="307.8" width="3.2" height="3.2"/><rect x="469.8" y="307.8" width="3.2" height="3.2"/><rect x="470.7" y="307.8" width="3.2" height="3.2"/><rect x="471.6" y="307.8" width="3.2" height="3.2"/><rect x="472.5" y="307.8" width="3.2" height="3.2"/><rect x="473.3" y="307.8" width="3.2" height="3.2"/><rect x="508.8" y="255.6" width="3.2" height="3.2"/><rect x="508.7" y="252.1" width="3.2" height="3.2"/><rect x="508.6" y="247.1" width="3.2" height="3.2"/><rect x="508.5" y="235.8" width="3.2" height="3.2"/><rect x="512.2" y="233.3" width="3.2" height="3.2"/><rect x="505.2" y="233.0" width="3.2" height="3.2"/><rect x="508.3" y="230.4" width="3.2" height="3.2"/><rect x="505.1" y="229.7" width="3.2" height="3.2"/><rect x="512.2" y="227.9" width="3.2" height="3.2"/><rect x="510.6" y="226.1" width="3.2" height="3.2"/><rect x="506.4" y="223.7" width="3.2" height="3.2"/><rect x="507.5" y="222.1" width="3.2" height="3.2"/><rect x="509.6" y="220.7" width="3.2" height="3.2"/><rect x="505.0" y="220.4" width="3.2" height="3.2"/><rect x="512.2" y="219.4" width="3.2" height="3.2"/><rect x="508.7" y="216.1" width="3.2" height="3.2"/><rect x="512.2" y="214.4" width="3.2" height="3.2"/><rect x="505.0" y="213.9" width="3.2" height="3.2"/><rect x="508.6" y="210.5" width="3.2" height="3.2"/><rect x="505.2" y="210.4" width="3.2" height="3.2"/><rect x="511.9" y="209.0" width="3.2" height="3.2"/><rect x="508.4" y="206.8" width="3.2" height="3.2"/><rect x="512.0" y="205.8" width="3.2" height="3.2"/><rect x="505.2" y="205.7" width="3.2" height="3.2"/><rect x="508.8" y="203.6" width="3.2" height="3.2"/><rect x="507.0" y="203.4" width="3.2" height="3.2"/><rect x="510.5" y="203.0" width="3.2" height="3.2"/><rect x="505.2" y="202.1" width="3.2" height="3.2"/><rect x="512.2" y="200.7" width="3.2" height="3.2"/><rect x="509.7" y="200.1" width="3.2" height="3.2"/><rect x="507.4" y="199.8" width="3.2" height="3.2"/><rect x="511.9" y="197.7" width="3.2" height="3.2"/><rect x="505.3" y="197.6" width="3.2" height="3.2"/><rect x="508.4" y="196.4" width="3.2" height="3.2"/><rect x="511.8" y="196.3" width="3.2" height="3.2"/><rect x="505.1" y="194.8" width="3.2" height="3.2"/><rect x="509.5" y="192.6" width="3.2" height="3.2"/><rect x="507.9" y="192.3" width="3.2" height="3.2"/><rect x="510.6" y="191.7" width="3.2" height="3.2"/><rect x="506.3" y="191.3" width="3.2" height="3.2"/><rect x="511.8" y="190.3" width="3.2" height="3.2"/><rect x="505.1" y="190.1" width="3.2" height="3.2"/><rect x="508.5" y="188.0" width="3.2" height="3.2"/><rect x="506.8" y="188.0" width="3.2" height="3.2"/><rect x="510.3" y="187.0" width="3.2" height="3.2"/><rect x="505.3" y="185.2" width="3.2" height="3.2"/><rect x="511.8" y="185.0" width="3.2" height="3.2"/><rect x="508.7" y="184.1" width="3.2" height="3.2"/><rect x="512.0" y="182.6" width="3.2" height="3.2"/><rect x="505.0" y="182.1" width="3.2" height="3.2"/><rect x="509.6" y="180.3" width="3.2" height="3.2"/><rect x="507.5" y="178.3" width="3.2" height="3.2"/><rect x="511.8" y="178.0" width="3.2" height="3.2"/><rect x="505.1" y="177.8" width="3.2" height="3.2"/><rect x="507.3" y="175.9" width="3.2" height="3.2"/><rect x="509.8" y="175.7" width="3.2" height="3.2"/><rect x="505.0" y="173.9" width="3.2" height="3.2"/><rect x="512.1" y="173.8" width="3.2" height="3.2"/><rect x="508.5" y="171.7" width="3.2" height="3.2"/><rect x="512.1" y="171.2" width="3.2" height="3.2"/><rect x="505.1" y="170.6" width="3.2" height="3.2"/><rect x="509.5" y="166.4" width="3.2" height="3.2"/><rect x="507.4" y="165.5" width="3.2" height="3.2"/><rect x="512.2" y="165.3" width="3.2" height="3.2"/><rect x="504.9" y="164.8" width="3.2" height="3.2"/><rect x="508.6" y="163.0" width="3.2" height="3.2"/><rect x="511.9" y="160.7" width="3.2" height="3.2"/><rect x="504.9" y="160.7" width="3.2" height="3.2"/><rect x="508.6" y="158.1" width="3.2" height="3.2"/><rect x="512.2" y="157.0" width="3.2" height="3.2"/><rect x="505.2" y="156.8" width="3.2" height="3.2"/><rect x="508.7" y="154.3" width="3.2" height="3.2"/><rect x="507.0" y="153.4" width="3.2" height="3.2"/><rect x="510.2" y="152.1" width="3.2" height="3.2"/><rect x="505.0" y="152.0" width="3.2" height="3.2"/><rect x="512.3" y="151.4" width="3.2" height="3.2"/><rect x="507.5" y="148.3" width="3.2" height="3.2"/><rect x="509.8" y="146.5" width="3.2" height="3.2"/><rect x="505.0" y="145.9" width="3.2" height="3.2"/><rect x="511.8" y="145.8" width="3.2" height="3.2"/><rect x="510.7" y="144.7" width="3.2" height="3.2"/><rect x="506.3" y="142.9" width="3.2" height="3.2"/><rect x="508.6" y="141.6" width="3.2" height="3.2"/><rect x="505.3" y="140.3" width="3.2" height="3.2"/><rect x="511.8" y="140.0" width="3.2" height="3.2"/><rect x="510.6" y="136.2" width="3.2" height="3.2"/><rect x="506.2" y="133.3" width="3.2" height="3.2"/><rect x="508.5" y="133.0" width="3.2" height="3.2"/><rect x="508.4" y="129.6" width="3.2" height="3.2"/><rect x="505.0" y="128.7" width="3.2" height="3.2"/><rect x="512.2" y="126.8" width="3.2" height="3.2"/><rect x="511.0" y="123.4" width="3.2" height="3.2"/><rect x="506.3" y="121.2" width="3.2" height="3.2"/><rect x="508.3" y="120.1" width="3.2" height="3.2"/><rect x="510.0" y="116.6" width="3.2" height="3.2"/><rect x="507.3" y="115.5" width="3.2" height="3.2"/><rect x="511.9" y="114.1" width="3.2" height="3.2"/><rect x="505.3" y="114.0" width="3.2" height="3.2"/><rect x="506.3" y="110.0" width="3.2" height="3.2"/><rect x="510.8" y="108.6" width="3.2" height="3.2"/><rect x="508.5" y="106.5" width="3.2" height="3.2"/><rect x="508.4" y="100.5" width="3.2" height="3.2"/><rect x="508.6" y="95.0" width="3.2" height="3.2"/><rect x="508.4" y="76.4" width="3.2" height="3.2"/><rect x="545.9" y="305.5" width="3.2" height="3.2"/><rect x="545.1" y="305.5" width="3.2" height="3.2"/><rect x="546.6" y="304.8" width="3.2" height="3.2"/><rect x="544.0" y="303.9" width="3.2" height="3.2"/><rect x="547.7" y="303.6" width="3.2" height="3.2"/><rect x="543.4" y="303.5" width="3.2" height="3.2"/><rect x="548.4" y="303.2" width="3.2" height="3.2"/><rect x="542.7" y="302.9" width="3.2" height="3.2"/><rect x="549.3" y="302.6" width="3.2" height="3.2"/><rect x="546.2" y="302.3" width="3.2" height="3.2"/><rect x="545.9" y="302.1" width="3.2" height="3.2"/><rect x="546.6" y="301.8" width="3.2" height="3.2"/><rect x="545.0" y="301.4" width="3.2" height="3.2"/><rect x="547.4" y="301.1" width="3.2" height="3.2"/><rect x="544.5" y="301.1" width="3.2" height="3.2"/><rect x="547.8" y="300.9" width="3.2" height="3.2"/><rect x="543.9" y="300.9" width="3.2" height="3.2"/><rect x="548.6" y="300.9" width="3.2" height="3.2"/><rect x="543.5" y="300.8" width="3.2" height="3.2"/><rect x="549.0" y="300.5" width="3.2" height="3.2"/><rect x="542.9" y="300.5" width="3.2" height="3.2"/><rect x="549.7" y="300.4" width="3.2" height="3.2"/><rect x="542.3" y="299.4" width="3.2" height="3.2"/><rect x="544.6" y="298.7" width="3.2" height="3.2"/><rect x="547.1" y="298.3" width="3.2" height="3.2"/><rect x="542.4" y="297.7" width="3.2" height="3.2"/><rect x="549.7" y="296.5" width="3.2" height="3.2"/><rect x="546.1" y="295.0" width="3.2" height="3.2"/><rect x="547.5" y="295.0" width="3.2" height="3.2"/><rect x="544.1" y="293.0" width="3.2" height="3.2"/><rect x="549.7" y="292.6" width="3.2" height="3.2"/><rect x="542.4" y="292.5" width="3.2" height="3.2"/><rect x="545.8" y="292.0" width="3.2" height="3.2"/><rect x="549.4" y="290.4" width="3.2" height="3.2"/><rect x="542.5" y="289.4" width="3.2" height="3.2"/><rect x="546.6" y="288.6" width="3.2" height="3.2"/><rect x="545.2" y="288.0" width="3.2" height="3.2"/><rect x="548.0" y="287.9" width="3.2" height="3.2"/><rect x="543.7" y="286.7" width="3.2" height="3.2"/><rect x="549.5" y="286.5" width="3.2" height="3.2"/><rect x="542.5" y="285.8" width="3.2" height="3.2"/><rect x="546.1" y="284.9" width="3.2" height="3.2"/><rect x="544.2" y="283.8" width="3.2" height="3.2"/><rect x="547.6" y="283.3" width="3.2" height="3.2"/><rect x="542.7" y="282.9" width="3.2" height="3.2"/><rect x="549.3" y="282.1" width="3.2" height="3.2"/><rect x="545.9" y="281.2" width="3.2" height="3.2"/><rect x="547.7" y="280.4" width="3.2" height="3.2"/><rect x="544.1" y="280.2" width="3.2" height="3.2"/><rect x="549.6" y="279.3" width="3.2" height="3.2"/><rect x="542.4" y="278.2" width="3.2" height="3.2"/><rect x="546.0" y="276.9" width="3.2" height="3.2"/><rect x="542.3" y="274.7" width="3.2" height="3.2"/><rect x="549.4" y="274.7" width="3.2" height="3.2"/><rect x="548.3" y="273.2" width="3.2" height="3.2"/><rect x="543.8" y="271.9" width="3.2" height="3.2"/><rect x="545.0" y="270.0" width="3.2" height="3.2"/><rect x="546.9" y="269.9" width="3.2" height="3.2"/><rect x="542.4" y="268.0" width="3.2" height="3.2"/><rect x="549.5" y="267.2" width="3.2" height="3.2"/><rect x="546.2" y="265.9" width="3.2" height="3.2"/><rect x="549.4" y="263.1" width="3.2" height="3.2"/><rect x="542.6" y="263.0" width="3.2" height="3.2"/><rect x="548.2" y="261.7" width="3.2" height="3.2"/><rect x="543.7" y="259.0" width="3.2" height="3.2"/><rect x="544.8" y="257.6" width="3.2" height="3.2"/><rect x="547.3" y="257.2" width="3.2" height="3.2"/><rect x="542.6" y="256.1" width="3.2" height="3.2"/><rect x="549.4" y="256.0" width="3.2" height="3.2"/><rect x="546.0" y="254.3" width="3.2" height="3.2"/><rect x="542.3" y="253.3" width="3.2" height="3.2"/><rect x="549.6" y="252.8" width="3.2" height="3.2"/><rect x="545.0" y="250.3" width="3.2" height="3.2"/><rect x="547.0" y="249.6" width="3.2" height="3.2"/><rect x="542.6" y="249.4" width="3.2" height="3.2"/><rect x="549.2" y="248.2" width="3.2" height="3.2"/><rect x="548.2" y="246.6" width="3.2" height="3.2"/><rect x="543.7" y="244.1" width="3.2" height="3.2"/><rect x="546.0" y="242.0" width="3.2" height="3.2"/><rect x="549.4" y="242.0" width="3.2" height="3.2"/><rect x="542.6" y="240.8" width="3.2" height="3.2"/><rect x="545.8" y="236.4" width="3.2" height="3.2"/><rect x="542.3" y="236.0" width="3.2" height="3.2"/><rect x="549.3" y="234.4" width="3.2" height="3.2"/><rect x="548.2" y="233.1" width="3.2" height="3.2"/><rect x="543.7" y="230.4" width="3.2" height="3.2"/><rect x="543.9" y="228.7" width="3.2" height="3.2"/><rect x="548.1" y="226.4" width="3.2" height="3.2"/><rect x="546.0" y="223.6" width="3.2" height="3.2"/><rect x="548.3" y="219.9" width="3.2" height="3.2"/><rect x="543.4" y="218.6" width="3.2" height="3.2"/><rect x="546.0" y="214.3" width="3.2" height="3.2"/><rect x="542.4" y="212.5" width="3.2" height="3.2"/><rect x="549.7" y="212.3" width="3.2" height="3.2"/><rect x="548.0" y="210.2" width="3.2" height="3.2"/><rect x="543.5" y="208.5" width="3.2" height="3.2"/><rect x="546.1" y="205.7" width="3.2" height="3.2"/><rect x="543.6" y="194.2" width="3.2" height="3.2"/><rect x="548.4" y="191.4" width="3.2" height="3.2"/><rect x="545.8" y="169.0" width="3.2" height="3.2"/><rect x="544.0" y="321.8" width="3.2" height="3.2"/><rect x="545.9" y="321.8" width="3.2" height="3.2"/><rect x="547.8" y="321.8" width="3.2" height="3.2"/><rect x="583.8" y="297.7" width="3.2" height="3.2"/><rect x="583.0" y="296.2" width="3.2" height="3.2"/><rect x="584.7" y="296.2" width="3.2" height="3.2"/><rect x="581.7" y="296.2" width="3.2" height="3.2"/><rect x="585.7" y="296.2" width="3.2" height="3.2"/><rect x="581.1" y="296.2" width="3.2" height="3.2"/><rect x="587.0" y="296.0" width="3.2" height="3.2"/><rect x="579.8" y="295.1" width="3.2" height="3.2"/><rect x="583.3" y="293.6" width="3.2" height="3.2"/><rect x="584.4" y="293.6" width="3.2" height="3.2"/><rect x="582.7" y="292.8" width="3.2" height="3.2"/><rect x="585.3" y="292.8" width="3.2" height="3.2"/><rect x="581.8" y="292.8" width="3.2" height="3.2"/><rect x="586.1" y="292.8" width="3.2" height="3.2"/><rect x="580.5" y="292.4" width="3.2" height="3.2"/><rect x="587.1" y="292.2" width="3.2" height="3.2"/><rect x="579.7" y="291.3" width="3.2" height="3.2"/><rect x="583.3" y="290.4" width="3.2" height="3.2"/><rect x="581.4" y="289.3" width="3.2" height="3.2"/><rect x="585.2" y="289.3" width="3.2" height="3.2"/><rect x="579.7" y="289.3" width="3.2" height="3.2"/><rect x="587.0" y="287.8" width="3.2" height="3.2"/><rect x="584.1" y="287.4" width="3.2" height="3.2"/><rect x="582.6" y="287.1" width="3.2" height="3.2"/><rect x="585.2" y="285.8" width="3.2" height="3.2"/><rect x="581.1" y="285.8" width="3.2" height="3.2"/><rect x="586.8" y="285.8" width="3.2" height="3.2"/><rect x="580.0" y="284.7" width="3.2" height="3.2"/><rect x="583.6" y="283.6" width="3.2" height="3.2"/><rect x="582.0" y="283.4" width="3.2" height="3.2"/><rect x="584.4" y="282.3" width="3.2" height="3.2"/><rect x="581.0" y="282.3" width="3.2" height="3.2"/><rect x="585.6" y="282.3" width="3.2" height="3.2"/><rect x="579.7" y="281.2" width="3.2" height="3.2"/><rect x="587.0" y="281.0" width="3.2" height="3.2"/><rect x="584.5" y="280.1" width="3.2" height="3.2"/><rect x="582.0" y="279.2" width="3.2" height="3.2"/><rect x="586.8" y="277.8" width="3.2" height="3.2"/><rect x="579.7" y="277.5" width="3.2" height="3.2"/><rect x="583.6" y="274.5" width="3.2" height="3.2"/><rect x="587.0" y="274.4" width="3.2" height="3.2"/><rect x="579.8" y="272.6" width="3.2" height="3.2"/><rect x="583.2" y="270.9" width="3.2" height="3.2"/><rect x="579.7" y="270.1" width="3.2" height="3.2"/><rect x="586.9" y="268.0" width="3.2" height="3.2"/><rect x="583.5" y="266.4" width="3.2" height="3.2"/><rect x="579.9" y="263.7" width="3.2" height="3.2"/><rect x="587.0" y="263.7" width="3.2" height="3.2"/><rect x="583.6" y="263.1" width="3.2" height="3.2"/><rect x="581.2" y="259.9" width="3.2" height="3.2"/><rect x="585.7" y="259.4" width="3.2" height="3.2"/><rect x="583.3" y="256.2" width="3.2" height="3.2"/><rect x="580.1" y="255.8" width="3.2" height="3.2"/><rect x="586.8" y="253.3" width="3.2" height="3.2"/><rect x="583.3" y="251.0" width="3.2" height="3.2"/><rect x="579.9" y="250.1" width="3.2" height="3.2"/><rect x="586.9" y="248.5" width="3.2" height="3.2"/><rect x="583.5" y="247.9" width="3.2" height="3.2"/><rect x="580.0" y="247.7" width="3.2" height="3.2"/><rect x="586.7" y="245.2" width="3.2" height="3.2"/><rect x="581.1" y="242.8" width="3.2" height="3.2"/><rect x="585.6" y="239.9" width="3.2" height="3.2"/><rect x="585.9" y="239.2" width="3.2" height="3.2"/><rect x="581.3" y="238.6" width="3.2" height="3.2"/><rect x="583.4" y="235.1" width="3.2" height="3.2"/><rect x="579.6" y="234.6" width="3.2" height="3.2"/><rect x="586.8" y="234.3" width="3.2" height="3.2"/><rect x="583.1" y="230.8" width="3.2" height="3.2"/><rect x="585.0" y="229.9" width="3.2" height="3.2"/><rect x="581.5" y="229.5" width="3.2" height="3.2"/><rect x="586.8" y="229.0" width="3.2" height="3.2"/><rect x="579.6" y="228.7" width="3.2" height="3.2"/><rect x="583.6" y="227.2" width="3.2" height="3.2"/><rect x="586.9" y="226.2" width="3.2" height="3.2"/><rect x="579.7" y="225.0" width="3.2" height="3.2"/><rect x="583.8" y="224.2" width="3.2" height="3.2"/><rect x="582.8" y="223.5" width="3.2" height="3.2"/><rect x="584.7" y="222.4" width="3.2" height="3.2"/><rect x="582.0" y="222.1" width="3.2" height="3.2"/><rect x="586.1" y="222.0" width="3.2" height="3.2"/><rect x="580.9" y="221.8" width="3.2" height="3.2"/><rect x="587.1" y="221.5" width="3.2" height="3.2"/><rect x="580.0" y="221.4" width="3.2" height="3.2"/><rect x="583.4" y="218.0" width="3.2" height="3.2"/><rect x="581.7" y="215.8" width="3.2" height="3.2"/><rect x="585.0" y="215.4" width="3.2" height="3.2"/><rect x="579.6" y="215.3" width="3.2" height="3.2"/><rect x="586.8" y="215.2" width="3.2" height="3.2"/><rect x="582.3" y="215.0" width="3.2" height="3.2"/><rect x="584.3" y="214.9" width="3.2" height="3.2"/><rect x="580.0" y="214.8" width="3.2" height="3.2"/><rect x="586.6" y="214.2" width="3.2" height="3.2"/><rect x="582.5" y="211.7" width="3.2" height="3.2"/><rect x="584.0" y="209.8" width="3.2" height="3.2"/><rect x="581.1" y="209.5" width="3.2" height="3.2"/><rect x="585.5" y="209.3" width="3.2" height="3.2"/><rect x="580.0" y="208.9" width="3.2" height="3.2"/><rect x="587.0" y="208.8" width="3.2" height="3.2"/><rect x="583.1" y="208.2" width="3.2" height="3.2"/><rect x="579.6" y="207.0" width="3.2" height="3.2"/><rect x="586.6" y="206.8" width="3.2" height="3.2"/><rect x="583.2" y="205.1" width="3.2" height="3.2"/><rect x="585.5" y="201.3" width="3.2" height="3.2"/><rect x="581.2" y="200.0" width="3.2" height="3.2"/><rect x="585.6" y="197.3" width="3.2" height="3.2"/><rect x="581.2" y="197.3" width="3.2" height="3.2"/><rect x="585.7" y="193.6" width="3.2" height="3.2"/><rect x="580.8" y="190.7" width="3.2" height="3.2"/><rect x="583.6" y="188.2" width="3.2" height="3.2"/><rect x="586.9" y="187.2" width="3.2" height="3.2"/><rect x="579.8" y="185.4" width="3.2" height="3.2"/><rect x="583.4" y="182.5" width="3.2" height="3.2"/><rect x="579.8" y="182.0" width="3.2" height="3.2"/><rect x="586.9" y="180.3" width="3.2" height="3.2"/><rect x="581.2" y="176.0" width="3.2" height="3.2"/><rect x="585.9" y="175.8" width="3.2" height="3.2"/><rect x="583.5" y="170.4" width="3.2" height="3.2"/><rect x="583.5" y="162.6" width="3.2" height="3.2"/><rect x="583.2" y="155.5" width="3.2" height="3.2"/><rect x="583.3" y="148.9" width="3.2" height="3.2"/><rect x="583.5" y="145.9" width="3.2" height="3.2"/></g>
<g stroke="#000" fill="none"><path d="M84.4 135.4V190.0M82.0 135.4h4.8M82.0 190.0h4.8" stroke-width="1.4"/><path d="M79.8 174.9h9.2" stroke-width="2.6"/><path d="M98.8 119.2V174.9M96.3 119.2h4.8M96.3 174.9h4.8" stroke-width="1.4"/><path d="M94.2 151.1h9.2" stroke-width="2.6"/><path d="M121.8 191.4V246.5M119.4 191.4h4.8M119.4 246.5h4.8" stroke-width="1.4"/><path d="M117.2 220.4h9.2" stroke-width="2.6"/><path d="M136.2 176.5V215.6M133.8 176.5h4.8M133.8 215.6h4.8" stroke-width="1.4"/><path d="M131.6 196.6h9.2" stroke-width="2.6"/><path d="M159.2 196.1V270.0M156.8 196.1h4.8M156.8 270.0h4.8" stroke-width="1.4"/><path d="M154.6 243.0h9.2" stroke-width="2.6"/><path d="M173.5 170.6V240.2M171.1 170.6h4.8M171.1 240.2h4.8" stroke-width="1.4"/><path d="M168.9 206.2h9.2" stroke-width="2.6"/><path d="M196.6 197.8V272.7M194.2 197.8h4.8M194.2 272.7h4.8" stroke-width="1.4"/><path d="M192.0 238.4h9.2" stroke-width="2.6"/><path d="M210.9 159.0V232.3M208.5 159.0h4.8M208.5 232.3h4.8" stroke-width="1.4"/><path d="M206.3 203.1h9.2" stroke-width="2.6"/><path d="M234.0 179.5V257.9M231.6 179.5h4.8M231.6 257.9h4.8" stroke-width="1.4"/><path d="M229.4 226.3h9.2" stroke-width="2.6"/><path d="M248.3 149.4V232.3M245.9 149.4h4.8M245.9 232.3h4.8" stroke-width="1.4"/><path d="M243.8 184.2h9.2" stroke-width="2.6"/><path d="M271.5 172.6V233.5M269.1 172.6h4.8M269.1 233.5h4.8" stroke-width="1.4"/><path d="M266.9 214.4h9.2" stroke-width="2.6"/><path d="M285.8 143.6V211.4M283.4 143.6h4.8M283.4 211.4h4.8" stroke-width="1.4"/><path d="M281.1 173.1h9.2" stroke-width="2.6"/><path d="M308.9 146.3V180.7M306.5 146.3h4.8M306.5 180.7h4.8" stroke-width="1.4"/><path d="M304.2 169.4h9.2" stroke-width="2.6"/><path d="M323.1 132.0V169.4M320.8 132.0h4.8M320.8 169.4h4.8" stroke-width="1.4"/><path d="M318.5 158.2h9.2" stroke-width="2.6"/><path d="M346.2 196.1V212.0M343.9 196.1h4.8M343.9 212.0h4.8" stroke-width="1.4"/><path d="M341.6 206.5h9.2" stroke-width="2.6"/><path d="M360.5 185.9V208.1M358.1 185.9h4.8M358.1 208.1h4.8" stroke-width="1.4"/><path d="M355.9 201.9h9.2" stroke-width="2.6"/><path d="M383.6 218.5V270.0M381.2 218.5h4.8M381.2 270.0h4.8" stroke-width="1.4"/><path d="M379.0 242.5h9.2" stroke-width="2.6"/><path d="M397.9 206.8V244.6M395.5 206.8h4.8M395.5 244.6h4.8" stroke-width="1.4"/><path d="M393.3 226.3h9.2" stroke-width="2.6"/><path d="M421.0 209.7V286.8M418.6 209.7h4.8M418.6 286.8h4.8" stroke-width="1.4"/><path d="M416.4 235.8h9.2" stroke-width="2.6"/><path d="M435.3 184.7V241.8M432.9 184.7h4.8M432.9 241.8h4.8" stroke-width="1.4"/><path d="M430.7 220.0h9.2" stroke-width="2.6"/><path d="M458.5 245.8V272.2M456.1 245.8h4.8M456.1 272.2h4.8" stroke-width="1.4"/><path d="M453.9 255.5h9.2" stroke-width="2.6"/><path d="M472.8 241.2V263.9M470.4 241.2h4.8M470.4 263.9h4.8" stroke-width="1.4"/><path d="M468.1 252.0h9.2" stroke-width="2.6"/><path d="M495.9 169.4V223.3M493.5 169.4h4.8M493.5 223.3h4.8" stroke-width="1.4"/><path d="M491.2 205.4h9.2" stroke-width="2.6"/><path d="M510.1 145.1V208.5M507.8 145.1h4.8M507.8 208.5h4.8" stroke-width="1.4"/><path d="M505.5 181.8h9.2" stroke-width="2.6"/><path d="M533.2 260.7V304.6M530.9 260.7h4.8M530.9 304.6h4.8" stroke-width="1.4"/><path d="M528.6 292.3h9.2" stroke-width="2.6"/><path d="M547.5 244.6V304.2M545.1 244.6h4.8M545.1 304.2h4.8" stroke-width="1.4"/><path d="M542.9 281.4h9.2" stroke-width="2.6"/><path d="M570.6 227.5V292.7M568.2 227.5h4.8M568.2 292.7h4.8" stroke-width="1.4"/><path d="M566.0 280.2h9.2" stroke-width="2.6"/><path d="M584.9 208.5V276.6M582.5 208.5h4.8M582.5 276.6h4.8" stroke-width="1.4"/><path d="M580.3 230.3h9.2" stroke-width="2.6"/></g>
<path d="M84.3 57.0V52.2H98.3V57.0" stroke="#000" stroke-width="1.7" fill="none"/><text x="91.3" y="53.2" font-size="11.4" letter-spacing="0.4" font-weight="bold" text-anchor="middle">***</text><path d="M122.0 92.5V87.7H136.0V92.5" stroke="#000" stroke-width="1.7" fill="none"/><text x="129.0" y="88.7" font-size="11.4" letter-spacing="0.4" font-weight="bold" text-anchor="middle">***</text><path d="M158.2 97.8V93.0H172.2V97.8" stroke="#000" stroke-width="1.7" fill="none"/><text x="165.2" y="94.0" font-size="11.4" letter-spacing="0.4" font-weight="bold" text-anchor="middle">***</text><path d="M195.7 96.0V91.2H209.7V96.0" stroke="#000" stroke-width="1.7" fill="none"/><text x="202.7" y="92.2" font-size="11.4" letter-spacing="0.4" font-weight="bold" text-anchor="middle">***</text><path d="M233.0 87.6V82.8H247.0V87.6" stroke="#000" stroke-width="1.7" fill="none"/><text x="240.0" y="83.8" font-size="11.4" letter-spacing="0.4" font-weight="bold" text-anchor="middle">***</text><path d="M271.0 87.6V82.8H285.0V87.6" stroke="#000" stroke-width="1.7" fill="none"/><text x="278.0" y="83.8" font-size="11.4" letter-spacing="0.4" font-weight="bold" text-anchor="middle">***</text><path d="M308.3 67.0V62.2H322.3V67.0" stroke="#000" stroke-width="1.7" fill="none"/><text x="315.3" y="63.2" font-size="11.4" letter-spacing="0.4" font-weight="bold" text-anchor="middle">**</text><path d="M345.3 78.7V73.9H359.3V78.7" stroke="#000" stroke-width="1.7" fill="none"/><text x="352.3" y="74.9" font-size="11.4" letter-spacing="0.4" font-weight="bold" text-anchor="middle">**</text><path d="M382.2 118.1V113.3H396.2V118.1" stroke="#000" stroke-width="1.7" fill="none"/><text x="389.2" y="114.3" font-size="11.4" letter-spacing="0.4" font-weight="bold" text-anchor="middle">**</text><path d="M421.4 91.1V86.3H435.4V91.1" stroke="#000" stroke-width="1.7" fill="none"/><text x="428.4" y="87.3" font-size="11.4" letter-spacing="0.4" font-weight="bold" text-anchor="middle">**</text><path d="M456.9 184.5V179.7H470.9V184.5" stroke="#000" stroke-width="1.7" fill="none"/><text x="454.9" y="174.5" font-size="11.6" stroke="#000" stroke-width="0.25">ns.</text><path d="M494.5 72.8V68.0H508.5V72.8" stroke="#000" stroke-width="1.7" fill="none"/><text x="501.5" y="69.0" font-size="11.4" letter-spacing="0.4" font-weight="bold" text-anchor="middle">**</text><path d="M533.1 166.7V161.9H547.1V166.7" stroke="#000" stroke-width="1.7" fill="none"/><text x="531.1" y="156.7" font-size="11.6" stroke="#000" stroke-width="0.25">ns.</text><path d="M571.9 141.5V136.7H585.9V141.5" stroke="#000" stroke-width="1.7" fill="none"/><text x="578.9" y="137.7" font-size="11.4" letter-spacing="0.4" font-weight="bold" text-anchor="middle">***</text>
<g stroke="#000" stroke-width="2.6" fill="none">
<path d="M73.2 7.2V357.8"/><path d="M71.9 356.5H597"/>
<path d="M64.7 8.5H73" stroke-width="2.4"/>
<path d="M64.7 66.5H73" stroke-width="2.4"/>
<path d="M64.7 124.5H73" stroke-width="2.4"/>
<path d="M64.7 182.5H73" stroke-width="2.4"/>
<path d="M64.7 240.5H73" stroke-width="2.4"/>
<path d="M64.7 298.5H73" stroke-width="2.4"/>
<path d="M64.7 356.5H73"/>
<path d="M91.0 356.5V365.3"/>
<path d="M128.4 356.5V365.3"/>
<path d="M165.8 356.5V365.3"/>
<path d="M203.2 356.5V365.3"/>
<path d="M240.6 356.5V365.3"/>
<path d="M278.0 356.5V365.3"/>
<path d="M315.4 356.5V365.3"/>
<path d="M352.8 356.5V365.3"/>
<path d="M390.2 356.5V365.3"/>
<path d="M427.6 356.5V365.3"/>
<path d="M465.0 356.5V365.3"/>
<path d="M502.4 356.5V365.3"/>
<path d="M539.8 356.5V365.3"/>
<path d="M577.2 356.5V365.3"/>
</g>
<g stroke="#000" stroke-width="0.35">
<text x="57.4" y="14.8" font-size="19.8" text-anchor="end">20</text>
<text x="57.4" y="72.8" font-size="19.8" text-anchor="end">15</text>
<text x="57.4" y="130.8" font-size="19.8" text-anchor="end">10</text>
<text x="57.4" y="188.8" font-size="19.8" text-anchor="end">5</text>
<text x="57.4" y="246.8" font-size="19.8" text-anchor="end">0</text>
<text x="57.4" y="304.8" font-size="19.8" text-anchor="end">-5</text>
<text x="57.4" y="362.8" font-size="19.8" text-anchor="end">-10</text>
<text transform="translate(97.1,374.5) rotate(-45)" font-size="18.8" letter-spacing="-0.45" text-anchor="end">CA</text>
<text transform="translate(134.5,374.5) rotate(-45)" font-size="18.8" letter-spacing="-0.45" text-anchor="end">CDCA</text>
<text transform="translate(171.9,374.5) rotate(-45)" font-size="18.8" letter-spacing="-0.45" text-anchor="end">TCA</text>
<text transform="translate(209.3,374.5) rotate(-45)" font-size="18.8" letter-spacing="-0.45" text-anchor="end">TCDCA</text>
<text transform="translate(246.7,374.5) rotate(-45)" font-size="18.8" letter-spacing="-0.45" text-anchor="end">GCA</text>
<text transform="translate(284.1,374.5) rotate(-45)" font-size="18.8" letter-spacing="-0.45" text-anchor="end">GCDCA</text>
<text transform="translate(321.5,374.5) rotate(-45)" font-size="18.8" letter-spacing="-0.45" text-anchor="end">DCA</text>
<text transform="translate(358.9,374.5) rotate(-45)" font-size="18.8" letter-spacing="-0.45" text-anchor="end">LCA</text>
<text transform="translate(396.3,374.5) rotate(-45)" font-size="18.8" letter-spacing="-0.45" text-anchor="end">UDCA</text>
<text transform="translate(433.7,374.5) rotate(-45)" font-size="18.8" letter-spacing="-0.45" text-anchor="end">TDCA</text>
<text transform="translate(471.1,374.5) rotate(-45)" font-size="18.8" letter-spacing="-0.45" text-anchor="end">TLCA</text>
<text transform="translate(508.5,374.5) rotate(-45)" font-size="18.8" letter-spacing="-0.45" text-anchor="end">GDCA</text>
<text transform="translate(545.9,374.5) rotate(-45)" font-size="18.8" letter-spacing="-0.45" text-anchor="end">GLCA</text>
<text transform="translate(583.3,374.5) rotate(-45)" font-size="18.8" letter-spacing="-0.45" text-anchor="end">GUDCA</text>
<text transform="translate(15.2,193.5) rotate(-90)" font-size="20.1" text-anchor="middle">Abundance (glog)</text>
</g>
<circle cx="530.7" cy="35.6" r="3.5" fill="#F03C1E" fill-opacity="0.45"/>
<rect x="527.4" y="66.7" width="6.6" height="6.6" fill="#283CF0" fill-opacity="0.5"/>
<text x="541" y="44.4" font-size="24" stroke="#000" stroke-width="0.35">LCC</text>
<text x="541" y="78.4" font-size="24" stroke="#000" stroke-width="0.35">RCC</text>
</svg>
</body></html>
